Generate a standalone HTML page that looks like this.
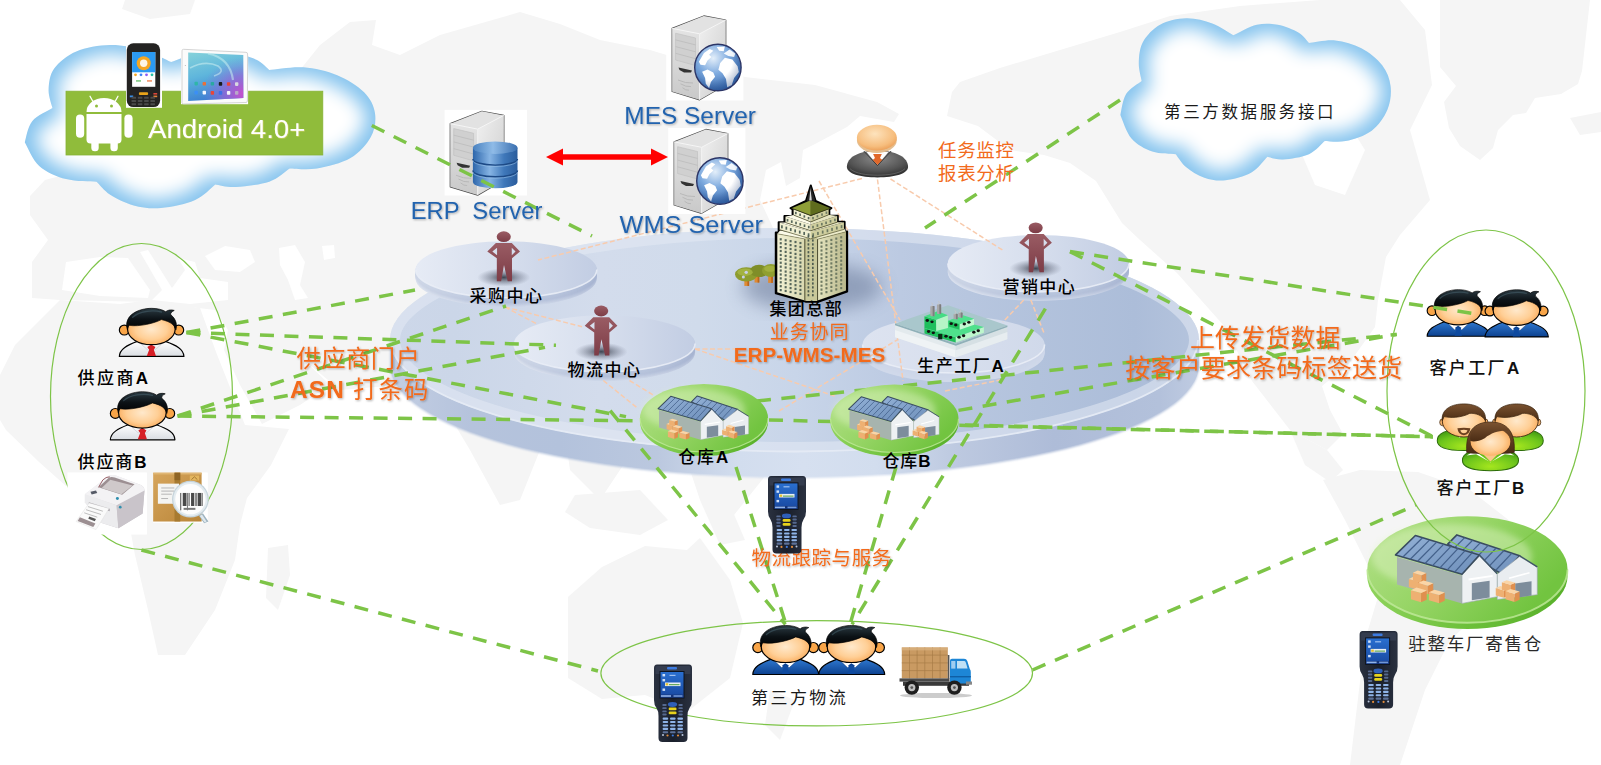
<!DOCTYPE html>
<html lang="zh"><head><meta charset="utf-8"><title>ERP-WMS-MES</title>
<style>
html,body{margin:0;padding:0;background:#fff;overflow:hidden}
svg{display:block}
text{font-family:"Liberation Sans","Noto Sans CJK SC",sans-serif;white-space:pre}
</style></head><body>
<svg width="1601" height="765" viewBox="0 0 1601 765">
<defs>
<filter id="blur9" x="-20%" y="-20%" width="140%" height="140%"><feGaussianBlur stdDeviation="9"/></filter>
<filter id="blur3" x="-20%" y="-20%" width="140%" height="140%"><feGaussianBlur stdDeviation="3"/></filter>
<filter id="blur2" x="-30%" y="-30%" width="160%" height="160%"><feGaussianBlur stdDeviation="2"/></filter>
<filter id="tsh" x="-5%" y="-20%" width="110%" height="150%"><feDropShadow dx="1" dy="1" stdDeviation="0.8" flood-color="#000" flood-opacity="0.3"/></filter>
<linearGradient id="discTop" x1="0" y1="0" x2="1" y2="0"><stop offset="0" stop-color="#d6deee"/><stop offset="0.5" stop-color="#d7dfee"/><stop offset="1" stop-color="#cfd8ea"/></linearGradient>
<linearGradient id="discSide" x1="0" y1="0" x2="0" y2="1"><stop offset="0" stop-color="#bcc8df"/><stop offset="0.45" stop-color="#b1bed8"/><stop offset="0.8" stop-color="#c6d0e4"/><stop offset="1" stop-color="#e6eaf3"/></linearGradient>
<linearGradient id="sdTop" x1="0" y1="0" x2="1" y2="0"><stop offset="0" stop-color="#e6ebf5"/><stop offset="0.5" stop-color="#d6deed"/><stop offset="1" stop-color="#c2cde3"/></linearGradient><linearGradient id="sdTop4" x1="0" y1="0" x2="1" y2="0"><stop offset="0" stop-color="#dde3f0"/><stop offset="0.5" stop-color="#d8dfee"/><stop offset="1" stop-color="#d0d9ea"/></linearGradient><linearGradient id="sdSide4" x1="0" y1="0" x2="1" y2="0"><stop offset="0" stop-color="#d3dbeb"/><stop offset="0.5" stop-color="#c9d3e6"/><stop offset="1" stop-color="#bcc8df"/></linearGradient>
<linearGradient id="sdSide" x1="0" y1="0" x2="1" y2="0"><stop offset="0" stop-color="#cdd6e8"/><stop offset="0.5" stop-color="#b7c4dc"/><stop offset="1" stop-color="#a6b5d2"/></linearGradient>
<radialGradient id="gdisc" cx="0.5" cy="0.35" r="0.7"><stop offset="0" stop-color="#b5e58a"/><stop offset="0.6" stop-color="#7fcf4a"/><stop offset="1" stop-color="#55b52c"/></radialGradient>

<linearGradient id="srvFront" x1="0" y1="0" x2="0" y2="1"><stop offset="0" stop-color="#e4e4e4"/><stop offset="1" stop-color="#c9c9c9"/></linearGradient>
<linearGradient id="srvSide" x1="0" y1="0" x2="1" y2="1"><stop offset="0" stop-color="#f0f0f0"/><stop offset="1" stop-color="#cdcdcd"/></linearGradient>
<radialGradient id="globe" cx="0.4" cy="0.3" r="0.75"><stop offset="0" stop-color="#e4effa"/><stop offset="0.45" stop-color="#7fabdf"/><stop offset="1" stop-color="#2b5ea6"/></radialGradient>
<linearGradient id="cyl" x1="0" y1="0" x2="1" y2="0"><stop offset="0" stop-color="#2d66ab"/><stop offset="0.38" stop-color="#86b4e4"/><stop offset="0.7" stop-color="#3f78ba"/><stop offset="1" stop-color="#2a5c9c"/></linearGradient>
<linearGradient id="cylTop" x1="0" y1="0" x2="1" y2="0"><stop offset="0" stop-color="#4a82c0"/><stop offset="0.45" stop-color="#8fbbe7"/><stop offset="1" stop-color="#3a6fb0"/></linearGradient>

<radialGradient id="skin" cx="0.5" cy="0.5" r="0.6"><stop offset="0" stop-color="#ffe9cc"/><stop offset="0.55" stop-color="#ffcf96"/><stop offset="1" stop-color="#f8a24c"/></radialGradient>
<linearGradient id="shirtW" x1="0" y1="0" x2="0" y2="1"><stop offset="0" stop-color="#ffffff"/><stop offset="1" stop-color="#d9dde2"/></linearGradient>
<linearGradient id="suitB" x1="0" y1="0" x2="0" y2="1"><stop offset="0" stop-color="#2f78cf"/><stop offset="1" stop-color="#0c418f"/></linearGradient>
<linearGradient id="hairK" x1="0" y1="0" x2="0" y2="1"><stop offset="0" stop-color="#2b3a42"/><stop offset="0.5" stop-color="#0c1216"/><stop offset="1" stop-color="#000"/></linearGradient>
<radialGradient id="suitG" cx="0.5" cy="0.8" r="0.8"><stop offset="0" stop-color="#a5e61e"/><stop offset="0.6" stop-color="#6cc41c"/><stop offset="1" stop-color="#3d9612"/></radialGradient>
<linearGradient id="hairBr" x1="0" y1="0" x2="0" y2="1"><stop offset="0" stop-color="#7a5230"/><stop offset="1" stop-color="#4a2c14"/></linearGradient>
<radialGradient id="mgrHead" cx="0.45" cy="0.35" r="0.7"><stop offset="0" stop-color="#fde3bd"/><stop offset="0.7" stop-color="#f6bd7d"/><stop offset="1" stop-color="#e99a52"/></radialGradient>
<radialGradient id="mgrBody" cx="0.5" cy="0.3" r="0.75"><stop offset="0" stop-color="#8a8a8a"/><stop offset="0.6" stop-color="#555"/><stop offset="1" stop-color="#262626"/></radialGradient>
<linearGradient id="maroon" x1="0" y1="0" x2="0" y2="1"><stop offset="0" stop-color="#9a5c64"/><stop offset="1" stop-color="#7c3c46"/></linearGradient>
<radialGradient id="shadowG" cx="0.5" cy="0.5" r="0.5"><stop offset="0" stop-color="#1a1f2a" stop-opacity="0.8"/><stop offset="0.45" stop-color="#2a3040" stop-opacity="0.4"/><stop offset="1" stop-color="#404860" stop-opacity="0"/></radialGradient>

<linearGradient id="gdTop" x1="0" y1="0" x2="1" y2="0.5"><stop offset="0" stop-color="#b4e18a"/><stop offset="0.5" stop-color="#97d566"/><stop offset="1" stop-color="#72c440"/></linearGradient>
<linearGradient id="gdSide" x1="0" y1="0" x2="1" y2="0"><stop offset="0" stop-color="#8fd35c"/><stop offset="0.5" stop-color="#6cc03a"/><stop offset="1" stop-color="#58b02a"/></linearGradient>
<linearGradient id="roofB" x1="0" y1="0" x2="1" y2="1"><stop offset="0" stop-color="#93b1d6"/><stop offset="1" stop-color="#6f90bb"/></linearGradient>
<linearGradient id="bldL" x1="0" y1="0" x2="1" y2="0"><stop offset="0" stop-color="#f2f1d4"/><stop offset="1" stop-color="#d9d8b0"/></linearGradient>
<linearGradient id="bldR" x1="0" y1="0" x2="1" y2="0"><stop offset="0" stop-color="#e6e5c0"/><stop offset="1" stop-color="#b9b88c"/></linearGradient>
<linearGradient id="platL" x1="0" y1="0" x2="0" y2="1"><stop offset="0" stop-color="#e4eaed"/><stop offset="0.7" stop-color="#eff3f5"/><stop offset="1" stop-color="#f4f6f8" stop-opacity="0.7"/></linearGradient>
<linearGradient id="platR" x1="0" y1="0" x2="0" y2="1"><stop offset="0" stop-color="#d5dfe3"/><stop offset="0.7" stop-color="#e4ebee"/><stop offset="1" stop-color="#eef1f4" stop-opacity="0.7"/></linearGradient>
<linearGradient id="scanBody" x1="0" y1="0" x2="1" y2="0"><stop offset="0" stop-color="#2a3140"/><stop offset="0.5" stop-color="#1a1f2b"/><stop offset="1" stop-color="#2a3140"/></linearGradient>
<linearGradient id="scanScr" x1="0" y1="0" x2="0" y2="1"><stop offset="0" stop-color="#2a6fd0"/><stop offset="1" stop-color="#1848a0"/></linearGradient>
<linearGradient id="boxBr" x1="0" y1="0" x2="1" y2="1"><stop offset="0" stop-color="#d6a55c"/><stop offset="1" stop-color="#b98538"/></linearGradient>
<linearGradient id="prn" x1="0" y1="0" x2="1" y2="1"><stop offset="0" stop-color="#f4f3f5"/><stop offset="1" stop-color="#b9b3ba"/></linearGradient>

<filter id="tglow" x="-5%" y="-20%" width="110%" height="140%"><feDropShadow dx="0.6" dy="0.6" stdDeviation="0.5" flood-color="#d8d36a" flood-opacity="0.9"/></filter>
<linearGradient id="bigSideH" gradientUnits="userSpaceOnUse" x1="390" y1="0" x2="1200" y2="0"><stop offset="0" stop-color="#c3cee3"/><stop offset="0.1" stop-color="#b5c3dc"/><stop offset="0.21" stop-color="#b3c2dc"/><stop offset="0.33" stop-color="#bbc8df"/><stop offset="0.43" stop-color="#d2ddee"/><stop offset="0.51" stop-color="#d6e0f0"/><stop offset="0.6" stop-color="#d2ddee"/><stop offset="0.7" stop-color="#bdc9e0"/><stop offset="0.82" stop-color="#aebcd8"/><stop offset="0.95" stop-color="#b3c1db"/><stop offset="1" stop-color="#c0cce2"/></linearGradient>
<linearGradient id="discTop2" gradientUnits="userSpaceOnUse" x1="390" y1="0" x2="1200" y2="0"><stop offset="0" stop-color="#cdd7e9"/><stop offset="0.08" stop-color="#cbd6e8"/><stop offset="0.26" stop-color="#d3dcec"/><stop offset="0.38" stop-color="#d0dbeb"/><stop offset="0.5" stop-color="#c8d5e9"/><stop offset="0.63" stop-color="#bccae2"/><stop offset="0.8" stop-color="#b2c2dc"/><stop offset="0.92" stop-color="#acbdd9"/><stop offset="1" stop-color="#b5c4dd"/></linearGradient>
<clipPath id="bigTop"><ellipse cx="794.5" cy="340" rx="404.5" ry="112"/></clipPath>
<filter id="blur1" x="-5%" y="-10%" width="110%" height="130%"><feGaussianBlur stdDeviation="1.2"/></filter>
<linearGradient id="sideH" x1="0" y1="0" x2="1" y2="0"><stop offset="0" stop-color="#fff" stop-opacity="0.35"/><stop offset="0.5" stop-color="#fff" stop-opacity="0"/><stop offset="1" stop-color="#8090b8" stop-opacity="0.25"/></linearGradient>
<filter id="cglow" x="-10%" y="-10%" width="120%" height="120%"><feMorphology operator="erode" radius="9"/><feGaussianBlur stdDeviation="9"/></filter>
<clipPath id="cl1"><path d="M24.8,142.3 C26.0,138.8 27.5,127.0 32.2,121.3 C36.8,115.6 49.1,110.3 52.5,108.1 C51.8,105.0 48.3,96.2 48.6,89.7 C48.9,83.1 49.6,75.0 54.2,68.6 C58.8,62.3 66.9,55.5 76.3,51.5 C85.6,47.6 99.0,45.2 110.2,45.0 C121.5,44.8 133.7,47.4 143.9,50.2 C154.0,53.1 166.6,60.1 171.2,62.1 C176.3,60.3 192.1,53.3 201.7,51.5 C211.2,49.8 219.6,50.2 228.6,51.5 C237.7,52.9 249.2,56.4 255.9,59.5 C262.7,62.6 267.0,68.2 269.2,69.9 C274.9,69.5 291.9,66.5 303.2,67.3 C314.5,68.2 327.0,71.0 337.2,75.2 C347.3,79.3 357.8,85.9 364.1,92.3 C370.4,98.6 373.9,105.8 375.0,113.3 C376.1,120.8 374.9,129.6 370.8,137.1 C366.7,144.6 359.5,152.9 350.5,158.1 C341.5,163.4 327.0,166.8 316.9,168.6 C306.7,170.3 294.1,168.6 289.6,168.6 C286.2,170.8 278.2,178.7 269.2,181.8 C260.3,184.8 244.6,186.5 235.6,187.0 C226.6,187.4 218.7,184.8 215.3,184.4 C211.9,187.0 203.7,196.2 194.6,200.2 C185.6,204.1 171.2,207.1 161.0,208.0 C150.9,208.9 142.2,207.6 133.7,205.4 C125.2,203.2 116.4,198.7 110.2,194.8 C104.1,190.9 98.9,183.9 96.6,181.8 C91.5,181.3 75.7,181.8 66.1,179.1 C56.6,176.5 46.0,172.1 39.2,165.9 C32.3,159.8 27.2,146.3 24.8,142.3 Z"/></clipPath>
<clipPath id="cl2"><path d="M1120.4,115.0 C1121.3,111.5 1122.5,99.8 1126.1,94.1 C1129.6,88.4 1139.1,83.2 1141.7,81.0 C1141.3,77.9 1138.5,69.2 1138.8,62.7 C1139.0,56.2 1139.5,48.1 1143.1,41.8 C1146.7,35.5 1152.9,28.7 1160.1,24.8 C1167.3,20.9 1177.6,18.5 1186.3,18.3 C1195.0,18.1 1204.4,20.6 1212.3,23.5 C1220.1,26.3 1229.8,33.3 1233.3,35.3 C1237.3,33.6 1249.5,26.5 1256.9,24.8 C1264.2,23.0 1270.7,23.5 1277.7,24.8 C1284.6,26.1 1293.5,29.7 1298.7,32.7 C1304.0,35.8 1307.3,41.4 1309.0,43.1 C1313.4,42.7 1326.5,39.6 1335.2,40.5 C1343.9,41.4 1353.6,44.1 1361.4,48.3 C1369.3,52.4 1377.4,59.0 1382.2,65.3 C1387.1,71.6 1389.7,78.8 1390.6,86.2 C1391.5,93.6 1390.5,102.4 1387.4,109.8 C1384.2,117.3 1378.6,125.5 1371.7,130.7 C1364.8,135.9 1353.6,139.4 1345.7,141.1 C1337.9,142.8 1328.2,141.1 1324.7,141.1 C1322.1,143.3 1315.9,151.2 1309.0,154.2 C1302.1,157.3 1290.0,159.0 1283.1,159.4 C1276.1,159.8 1270.0,157.2 1267.4,156.8 C1264.7,159.4 1258.4,168.6 1251.4,172.5 C1244.5,176.4 1233.3,179.4 1225.5,180.3 C1217.7,181.2 1211.0,179.9 1204.4,177.7 C1197.9,175.5 1191.1,171.1 1186.3,167.2 C1181.6,163.3 1177.5,156.4 1175.8,154.2 C1171.9,153.8 1159.7,154.2 1152.3,151.6 C1144.9,149.0 1136.8,144.6 1131.5,138.5 C1126.2,132.4 1122.2,118.9 1120.4,115.0 Z"/></clipPath>
<radialGradient id="globeShade" cx="0.35" cy="0.3" r="0.8"><stop offset="0.6" stop-color="#1d3f7a" stop-opacity="0"/><stop offset="1" stop-color="#1d3f7a" stop-opacity="0.45"/></radialGradient>
<linearGradient id="tabScr" x1="0" y1="0" x2="0.3" y2="1"><stop offset="0" stop-color="#86d2da"/><stop offset="0.5" stop-color="#5fb6dc"/><stop offset="1" stop-color="#3a7fd2"/></linearGradient><radialGradient id="tabMag" cx="1" cy="0.85" r="0.75"><stop offset="0" stop-color="#d04ccc" stop-opacity="0.95"/><stop offset="0.5" stop-color="#a860d8" stop-opacity="0.6"/><stop offset="1" stop-color="#8a7ae0" stop-opacity="0"/></radialGradient>
</defs>
<rect width="1601" height="765" fill="#fff"/>
<polygon points="30,215 30,196 45,180 75,172 95,120 200,100 300,70 320,45 350,22 376,20 372,45 400,55 440,35 520,12 560,24 600,40 650,50 700,65 745,77 815,85 877,102 899,114 894,122 860,116 847,127 815,144 803,150 800,178 786,186 781,162 766,170 760,200 775,232 870,300 830,400 770,470 730,520 700,500 690,470 640,440 600,500 570,470 560,400 520,500 500,505 470,450 440,400 400,385 340,390 304,360 300,330 228,330 215,310 150,302 60,300 32,298 32,262 48,240" fill="#f5f5f5"/>
<polygon points="125,0 195,0 190,14 150,19 122,9" fill="#f5f5f5"/>
<polygon points="62,290 66,262 100,257 128,258 150,290 148,298 100,296" fill="#fff"/>
<polygon points="140,252 148,250 172,288 185,270 178,258 195,262 200,278 228,282 228,300 190,304 152,300 162,290" fill="#fff"/>
<polygon points="205,256 225,246 250,250 255,262 240,272 215,270" fill="#fff"/>
<polygon points="279,248 295,245 305,262 300,285 308,298 295,300 288,280 280,265" fill="#fff"/>
<polygon points="322,246 334,245 335,258 324,260" fill="#fff"/>
<polygon points="228,330 300,330 304,360 330,385 300,405 262,424 240,385 224,350" fill="#f5f5f5"/>
<polygon points="30,330 60,300 120,304 150,300 200,308 216,352 245,425 289,429 271,465 247,498 240,525 235,560 215,610 185,655 158,655 148,610 135,555 125,500 100,480 66,486 39,462 6,430 0,420 0,375 15,345" fill="#f5f5f5"/>
<polygon points="268,548 288,545 290,575 278,610 266,598" fill="#f5f5f5"/>
<polygon points="700,500 730,505 745,540 720,545" fill="#f5f5f5"/>
<polygon points="575,495 640,490 668,520 640,535 590,528 565,512" fill="#f5f5f5"/>
<polygon points="568,597 602,567 645,546 687,550 700,538 730,580 743,623 730,678 687,712 645,695 602,699 568,678" fill="#f5f5f5"/>
<polygon points="770,690 795,700 780,740 765,725" fill="#f5f5f5"/>
<polygon points="947,116 952,92 960,82 1000,68 1060,50 1120,32 1170,16 1240,6 1320,0 1400,0 1425,30 1432,85 1410,130 1430,200 1400,235 1386,257 1378,300 1375,327 1348,365 1322,386 1330,410 1343,434 1327,450 1290,430 1252,381 1225,327 1177,273 1140,240 1122,223 1096,181 1070,163 1044,155 1010,150 978,126" fill="#f5f5f5"/>
<polygon points="1300,120 1340,110 1365,150 1345,195 1315,185 1300,150" fill="#fff"/>
<polygon points="1290,430 1327,450 1343,470 1330,482 1305,465" fill="#f5f5f5"/>
<polygon points="1323,480 1360,470 1418,472 1470,490 1528,535 1505,590 1450,640 1425,690 1400,765 1350,765 1365,640 1380,590 1345,520" fill="#f5f5f5"/>
<polygon points="1440,0 1590,0 1582,71 1578,84 1561,94 1535,98 1526,113 1513,115 1498,130 1493,148 1480,160 1460,146 1449,128 1444,102 1456,86 1440,67" fill="#f5f5f5"/>
<polygon points="1570,118 1601,112 1601,132 1580,135" fill="#f5f5f5"/>
<g><path d="M390.0,340 L390.0,366 A404.5,112 0 0 0 1199.0,366 L1199.0,340 Z" fill="url(#bigSideH)" filter="url(#blur1)"/><path d="M390.0,340 L390.0,364.5 A404.5,112 0 0 0 1199.0,364.5 L1199.0,340 Z" fill="url(#bigSideH)"/><ellipse cx="794.5" cy="340" rx="404.5" ry="112" fill="url(#discTop2)"/><path d="M391.0,340 A403.5,111.5 0 0 0 1198.0,340" fill="none" stroke="#e8edf6" stroke-width="1.8" opacity="0.9"/></g>
<g clip-path="url(#bigTop)"><ellipse cx="794.5" cy="340" rx="404.5" ry="112" fill="none" stroke="#e3e9f4" stroke-width="20" opacity="0.55"/></g>
<ellipse cx="812" cy="287" rx="70" ry="24" fill="#4e5d80" opacity="0.42" filter="url(#blur9)"/>
<g><ellipse cx="506.2" cy="278.5" rx="90.6" ry="28.2" fill="#c9d3e6"/><ellipse cx="506.2" cy="277.5" rx="90.6" ry="28.2" fill="#c3cde2"/><ellipse cx="506.2" cy="276.5" rx="90.6" ry="28.2" fill="#bcc8df"/><ellipse cx="506.2" cy="275.5" rx="90.6" ry="28.2" fill="#b6c2db"/><ellipse cx="506.2" cy="274.5" rx="90.6" ry="28.2" fill="#b3bfd9"/><ellipse cx="506.2" cy="273.5" rx="90.6" ry="28.2" fill="#b4c1da"/><ellipse cx="506.2" cy="272.5" rx="90.6" ry="28.2" fill="#b5c2db"/><ellipse cx="506.2" cy="271.5" rx="90.6" ry="28.2" fill="#b6c3dc"/><ellipse cx="506.2" cy="270.5" rx="90.6" ry="28.2" fill="#b8c4dc"/><path d="M415.6,269.5 L415.6,278.5 A90.6,28.2 0 0 0 596.8,278.5 L596.8,269.5 Z" fill="url(#sideH)"/><ellipse cx="506.2" cy="269.5" rx="90.6" ry="28.2" fill="url(#sdTop)"/><path d="M415.6,269.5 A90.6,28.2 0 0 0 596.8,269.5" fill="none" stroke="#e9edf6" stroke-width="1.6" opacity="0.9"/></g>
<g><ellipse cx="604.5" cy="352.5" rx="90.6" ry="28.2" fill="#c9d3e6"/><ellipse cx="604.5" cy="351.5" rx="90.6" ry="28.2" fill="#c3cde2"/><ellipse cx="604.5" cy="350.5" rx="90.6" ry="28.2" fill="#bcc8df"/><ellipse cx="604.5" cy="349.5" rx="90.6" ry="28.2" fill="#b6c2db"/><ellipse cx="604.5" cy="348.5" rx="90.6" ry="28.2" fill="#b3bfd9"/><ellipse cx="604.5" cy="347.5" rx="90.6" ry="28.2" fill="#b4c1da"/><ellipse cx="604.5" cy="346.5" rx="90.6" ry="28.2" fill="#b5c2db"/><ellipse cx="604.5" cy="345.5" rx="90.6" ry="28.2" fill="#b6c3dc"/><ellipse cx="604.5" cy="344.5" rx="90.6" ry="28.2" fill="#b8c4dc"/><path d="M513.9,343.5 L513.9,352.5 A90.6,28.2 0 0 0 695.1,352.5 L695.1,343.5 Z" fill="url(#sideH)"/><ellipse cx="604.5" cy="343.5" rx="90.6" ry="28.2" fill="url(#sdTop)"/><path d="M513.9,343.5 A90.6,28.2 0 0 0 695.1,343.5" fill="none" stroke="#e9edf6" stroke-width="1.6" opacity="0.9"/></g>
<g><ellipse cx="1038.4" cy="272.4" rx="90.6" ry="28.5" fill="#c9d3e6"/><ellipse cx="1038.4" cy="271.4" rx="90.6" ry="28.5" fill="#c3cde2"/><ellipse cx="1038.4" cy="270.4" rx="90.6" ry="28.5" fill="#bcc8df"/><ellipse cx="1038.4" cy="269.4" rx="90.6" ry="28.5" fill="#b6c2db"/><ellipse cx="1038.4" cy="268.4" rx="90.6" ry="28.5" fill="#b3bfd9"/><ellipse cx="1038.4" cy="267.4" rx="90.6" ry="28.5" fill="#b4c1da"/><ellipse cx="1038.4" cy="266.4" rx="90.6" ry="28.5" fill="#b5c2db"/><ellipse cx="1038.4" cy="265.4" rx="90.6" ry="28.5" fill="#b6c3dc"/><ellipse cx="1038.4" cy="264.4" rx="90.6" ry="28.5" fill="#b8c4dc"/><path d="M947.8000000000001,263.4 L947.8000000000001,272.4 A90.6,28.5 0 0 0 1129.0,272.4 L1129.0,263.4 Z" fill="url(#sideH)"/><ellipse cx="1038.4" cy="263.4" rx="90.6" ry="28.5" fill="url(#sdTop)"/><path d="M947.8000000000001,263.4 A90.6,28.5 0 0 0 1129.0,263.4" fill="none" stroke="#e9edf6" stroke-width="1.6" opacity="0.9"/></g>
<g><ellipse cx="953.6" cy="353.6" rx="91" ry="28.4" fill="#d0d9ea"/><ellipse cx="953.6" cy="352.6" rx="91" ry="28.4" fill="#d0d9ea"/><ellipse cx="953.6" cy="351.6" rx="91" ry="28.4" fill="#cfd8ea"/><ellipse cx="953.6" cy="350.6" rx="91" ry="28.4" fill="#cfd8e9"/><ellipse cx="953.6" cy="349.6" rx="91" ry="28.4" fill="#ced7e9"/><ellipse cx="953.6" cy="348.6" rx="91" ry="28.4" fill="#ced7e9"/><ellipse cx="953.6" cy="347.6" rx="91" ry="28.4" fill="#cdd6e9"/><ellipse cx="953.6" cy="346.6" rx="91" ry="28.4" fill="#cdd6e8"/><ellipse cx="953.6" cy="345.6" rx="91" ry="28.4" fill="#ccd5e8"/><ellipse cx="953.6" cy="344.6" rx="91" ry="28.4" fill="url(#sdTop4)"/><path d="M862.6,344.6 A91,28.4 0 0 0 1044.6,344.6" fill="none" stroke="#e9edf6" stroke-width="1.6" opacity="0.9"/></g>
<path d="M24.8,142.3 C26.0,138.8 27.5,127.0 32.2,121.3 C36.8,115.6 49.1,110.3 52.5,108.1 C51.8,105.0 48.3,96.2 48.6,89.7 C48.9,83.1 49.6,75.0 54.2,68.6 C58.8,62.3 66.9,55.5 76.3,51.5 C85.6,47.6 99.0,45.2 110.2,45.0 C121.5,44.8 133.7,47.4 143.9,50.2 C154.0,53.1 166.6,60.1 171.2,62.1 C176.3,60.3 192.1,53.3 201.7,51.5 C211.2,49.8 219.6,50.2 228.6,51.5 C237.7,52.9 249.2,56.4 255.9,59.5 C262.7,62.6 267.0,68.2 269.2,69.9 C274.9,69.5 291.9,66.5 303.2,67.3 C314.5,68.2 327.0,71.0 337.2,75.2 C347.3,79.3 357.8,85.9 364.1,92.3 C370.4,98.6 373.9,105.8 375.0,113.3 C376.1,120.8 374.9,129.6 370.8,137.1 C366.7,144.6 359.5,152.9 350.5,158.1 C341.5,163.4 327.0,166.8 316.9,168.6 C306.7,170.3 294.1,168.6 289.6,168.6 C286.2,170.8 278.2,178.7 269.2,181.8 C260.3,184.8 244.6,186.5 235.6,187.0 C226.6,187.4 218.7,184.8 215.3,184.4 C211.9,187.0 203.7,196.2 194.6,200.2 C185.6,204.1 171.2,207.1 161.0,208.0 C150.9,208.9 142.2,207.6 133.7,205.4 C125.2,203.2 116.4,198.7 110.2,194.8 C104.1,190.9 98.9,183.9 96.6,181.8 C91.5,181.3 75.7,181.8 66.1,179.1 C56.6,176.5 46.0,172.1 39.2,165.9 C32.3,159.8 27.2,146.3 24.8,142.3 Z" fill="#86c4ee"/>
<g clip-path="url(#cl1)"><path d="M24.8,142.3 C26.0,138.8 27.5,127.0 32.2,121.3 C36.8,115.6 49.1,110.3 52.5,108.1 C51.8,105.0 48.3,96.2 48.6,89.7 C48.9,83.1 49.6,75.0 54.2,68.6 C58.8,62.3 66.9,55.5 76.3,51.5 C85.6,47.6 99.0,45.2 110.2,45.0 C121.5,44.8 133.7,47.4 143.9,50.2 C154.0,53.1 166.6,60.1 171.2,62.1 C176.3,60.3 192.1,53.3 201.7,51.5 C211.2,49.8 219.6,50.2 228.6,51.5 C237.7,52.9 249.2,56.4 255.9,59.5 C262.7,62.6 267.0,68.2 269.2,69.9 C274.9,69.5 291.9,66.5 303.2,67.3 C314.5,68.2 327.0,71.0 337.2,75.2 C347.3,79.3 357.8,85.9 364.1,92.3 C370.4,98.6 373.9,105.8 375.0,113.3 C376.1,120.8 374.9,129.6 370.8,137.1 C366.7,144.6 359.5,152.9 350.5,158.1 C341.5,163.4 327.0,166.8 316.9,168.6 C306.7,170.3 294.1,168.6 289.6,168.6 C286.2,170.8 278.2,178.7 269.2,181.8 C260.3,184.8 244.6,186.5 235.6,187.0 C226.6,187.4 218.7,184.8 215.3,184.4 C211.9,187.0 203.7,196.2 194.6,200.2 C185.6,204.1 171.2,207.1 161.0,208.0 C150.9,208.9 142.2,207.6 133.7,205.4 C125.2,203.2 116.4,198.7 110.2,194.8 C104.1,190.9 98.9,183.9 96.6,181.8 C91.5,181.3 75.7,181.8 66.1,179.1 C56.6,176.5 46.0,172.1 39.2,165.9 C32.3,159.8 27.2,146.3 24.8,142.3 Z" fill="#fff" stroke="#fff" stroke-width="2" filter="url(#cglow)"/></g>
<path d="M1120.4,115.0 C1121.3,111.5 1122.5,99.8 1126.1,94.1 C1129.6,88.4 1139.1,83.2 1141.7,81.0 C1141.3,77.9 1138.5,69.2 1138.8,62.7 C1139.0,56.2 1139.5,48.1 1143.1,41.8 C1146.7,35.5 1152.9,28.7 1160.1,24.8 C1167.3,20.9 1177.6,18.5 1186.3,18.3 C1195.0,18.1 1204.4,20.6 1212.3,23.5 C1220.1,26.3 1229.8,33.3 1233.3,35.3 C1237.3,33.6 1249.5,26.5 1256.9,24.8 C1264.2,23.0 1270.7,23.5 1277.7,24.8 C1284.6,26.1 1293.5,29.7 1298.7,32.7 C1304.0,35.8 1307.3,41.4 1309.0,43.1 C1313.4,42.7 1326.5,39.6 1335.2,40.5 C1343.9,41.4 1353.6,44.1 1361.4,48.3 C1369.3,52.4 1377.4,59.0 1382.2,65.3 C1387.1,71.6 1389.7,78.8 1390.6,86.2 C1391.5,93.6 1390.5,102.4 1387.4,109.8 C1384.2,117.3 1378.6,125.5 1371.7,130.7 C1364.8,135.9 1353.6,139.4 1345.7,141.1 C1337.9,142.8 1328.2,141.1 1324.7,141.1 C1322.1,143.3 1315.9,151.2 1309.0,154.2 C1302.1,157.3 1290.0,159.0 1283.1,159.4 C1276.1,159.8 1270.0,157.2 1267.4,156.8 C1264.7,159.4 1258.4,168.6 1251.4,172.5 C1244.5,176.4 1233.3,179.4 1225.5,180.3 C1217.7,181.2 1211.0,179.9 1204.4,177.7 C1197.9,175.5 1191.1,171.1 1186.3,167.2 C1181.6,163.3 1177.5,156.4 1175.8,154.2 C1171.9,153.8 1159.7,154.2 1152.3,151.6 C1144.9,149.0 1136.8,144.6 1131.5,138.5 C1126.2,132.4 1122.2,118.9 1120.4,115.0 Z" fill="#86c4ee"/>
<g clip-path="url(#cl2)"><path d="M1120.4,115.0 C1121.3,111.5 1122.5,99.8 1126.1,94.1 C1129.6,88.4 1139.1,83.2 1141.7,81.0 C1141.3,77.9 1138.5,69.2 1138.8,62.7 C1139.0,56.2 1139.5,48.1 1143.1,41.8 C1146.7,35.5 1152.9,28.7 1160.1,24.8 C1167.3,20.9 1177.6,18.5 1186.3,18.3 C1195.0,18.1 1204.4,20.6 1212.3,23.5 C1220.1,26.3 1229.8,33.3 1233.3,35.3 C1237.3,33.6 1249.5,26.5 1256.9,24.8 C1264.2,23.0 1270.7,23.5 1277.7,24.8 C1284.6,26.1 1293.5,29.7 1298.7,32.7 C1304.0,35.8 1307.3,41.4 1309.0,43.1 C1313.4,42.7 1326.5,39.6 1335.2,40.5 C1343.9,41.4 1353.6,44.1 1361.4,48.3 C1369.3,52.4 1377.4,59.0 1382.2,65.3 C1387.1,71.6 1389.7,78.8 1390.6,86.2 C1391.5,93.6 1390.5,102.4 1387.4,109.8 C1384.2,117.3 1378.6,125.5 1371.7,130.7 C1364.8,135.9 1353.6,139.4 1345.7,141.1 C1337.9,142.8 1328.2,141.1 1324.7,141.1 C1322.1,143.3 1315.9,151.2 1309.0,154.2 C1302.1,157.3 1290.0,159.0 1283.1,159.4 C1276.1,159.8 1270.0,157.2 1267.4,156.8 C1264.7,159.4 1258.4,168.6 1251.4,172.5 C1244.5,176.4 1233.3,179.4 1225.5,180.3 C1217.7,181.2 1211.0,179.9 1204.4,177.7 C1197.9,175.5 1191.1,171.1 1186.3,167.2 C1181.6,163.3 1177.5,156.4 1175.8,154.2 C1171.9,153.8 1159.7,154.2 1152.3,151.6 C1144.9,149.0 1136.8,144.6 1131.5,138.5 C1126.2,132.4 1122.2,118.9 1120.4,115.0 Z" fill="#fff" stroke="#fff" stroke-width="2" filter="url(#cglow)"/></g>
<ellipse cx="141.5" cy="396.5" rx="91" ry="153" fill="none" stroke="#7dc447" stroke-width="1.2"/>
<ellipse cx="816.7" cy="673.3" rx="215.8" ry="52.6" fill="none" stroke="#7dc447" stroke-width="1.2"/>
<line x1="862" y1="178.5" x2="538" y2="260" stroke="#f8cbad" stroke-width="1.5" stroke-dasharray="5 2.5"/>
<line x1="819" y1="181" x2="900" y2="320" stroke="#f8cbad" stroke-width="1.5" stroke-dasharray="5 2.5"/>
<line x1="877.5" y1="179.5" x2="903" y2="381" stroke="#f8cbad" stroke-width="1.5" stroke-dasharray="5 2.5"/>
<line x1="890.5" y1="179" x2="1004" y2="251" stroke="#f8cbad" stroke-width="1.5" stroke-dasharray="5 2.5"/>
<line x1="1023.7" y1="300" x2="1003" y2="322" stroke="#f8cbad" stroke-width="1.5" stroke-dasharray="5 2.5"/>
<line x1="1030.8" y1="300" x2="1044" y2="333" stroke="#f8cbad" stroke-width="1.5" stroke-dasharray="5 2.5"/>
<line x1="505" y1="307" x2="582" y2="326.7" stroke="#f8cbad" stroke-width="1.5" stroke-dasharray="5 2.5"/>
<line x1="505" y1="307" x2="537" y2="324" stroke="#f8cbad" stroke-width="1.5" stroke-dasharray="5 2.5"/>
<line x1="603.3" y1="380.5" x2="638" y2="408.5" stroke="#f8cbad" stroke-width="1.5" stroke-dasharray="5 2.5"/>
<line x1="629.5" y1="380.5" x2="654" y2="395.5" stroke="#f8cbad" stroke-width="1.5" stroke-dasharray="5 2.5"/>
<line x1="695" y1="349" x2="735" y2="349" stroke="#f8cbad" stroke-width="1.5" stroke-dasharray="5 2.5"/>
<line x1="695" y1="349" x2="836" y2="396.5" stroke="#f8cbad" stroke-width="1.5" stroke-dasharray="5 2.5"/>
<line x1="779" y1="411" x2="897" y2="340" stroke="#f8cbad" stroke-width="1.5" stroke-dasharray="5 2.5"/>
<line x1="945" y1="391" x2="1000" y2="380" stroke="#f8cbad" stroke-width="1.5" stroke-dasharray="5 2.5"/>
<g stroke-linejoin="round"><rect x="666.2" y="14.5" width="77.2" height="86" fill="#fff"/><path d="M672.2,28.4 L703.8,16.0 L725.7,20.1 L725.7,84.7 L699.6,99.8 L672.2,91.5 Z" fill="#dcdcdc" stroke="#4d4d4d" stroke-width="1.3"/><path d="M672.2,28.4 L699.6,33.8 L699.6,99.8 L672.2,91.5 Z" fill="url(#srvFront)"/><path d="M699.6,33.8 L725.7,20.1 L725.7,84.7 L699.6,99.8 Z" fill="url(#srvSide)"/><path d="M672.2,28.4 L703.8,16.0 L725.7,20.1 L699.6,33.8 Z" fill="#e2e2e2"/><path d="M672.2,28.4 L699.6,33.8 L725.7,20.1" fill="none" stroke="#f6f6f6" stroke-width="1"/><path d="M699.6,33.8 L699.6,99.8" fill="none" stroke="#f2f2f2" stroke-width="1"/><path d="M675.6,33.2 L695.5,38.0 L695.5,65.5 L675.6,60.0 Z" fill="#d0d0d0" stroke="#bdbdbd" stroke-width="0.6"/><path d="M675.6,39.9 L695.5,44.9" stroke="#b9b9b9" stroke-width="0.7"/><path d="M675.6,46.6 L695.5,51.8" stroke="#b9b9b9" stroke-width="0.7"/><path d="M675.6,53.3 L695.5,58.7" stroke="#b9b9b9" stroke-width="0.7"/><path d="M678.5,67.5 L692.0,70.5 L691.0,72.5 L684.0,72.5 L679.5,70.0 Z" fill="#333"/><path d="M678.0,80.0 Q685.5,83.5 693.0,83.0" stroke="#b5b5b5" stroke-width="0.9" fill="none"/><path d="M680.5,83.8 Q685.8,87.1 691.0,86.6" stroke="#b5b5b5" stroke-width="0.9" fill="none"/><path d="M682.5,87.7 Q685.8,90.7 689.0,90.2" stroke="#b5b5b5" stroke-width="0.9" fill="none"/><circle cx="717.9" cy="67.5" r="23.2" fill="url(#globe)" stroke="#2c3566" stroke-width="1.4"/><path d="M698.9,61.7 L704.0,53.1 L709.8,48.9 L713.3,50.8 L709.1,54.7 L711.4,57.1 L707.5,60.5 L705.1,65.2 L700.5,64.7 Z" fill="#fff"/><path d="M702.1,71.7 L707.5,69.4 L713.3,72.6 L715.1,76.8 L710.9,81.9 L709.1,87.9 L705.8,83.7 L705.1,77.9 Z" fill="#fff"/><path d="M716.7,47.1 L724.9,46.6 L723.7,51.3 L719.1,50.8 Z" fill="#fff"/><path d="M720.2,62.9 L724.9,57.8 L732.3,59.4 L737.6,66.3 L738.8,72.1 L734.1,77.9 L731.8,84.9 L727.2,87.2 L726.0,79.1 L722.5,73.3 L718.4,69.8 Z" fill="#fff"/><path d="M723.7,53.6 L729.5,49.4 L735.3,53.6 L734.1,57.1 L728.3,55.9 Z" fill="#fff" opacity="0.9"/><circle cx="717.9" cy="67.5" r="22.5" fill="url(#globeShade)"/></g>
<g stroke-linejoin="round"><rect x="668.2" y="128.0" width="77.2" height="86" fill="#fff"/><path d="M674.2,141.9 L705.8,129.5 L727.7,133.6 L727.7,198.2 L701.6,213.3 L674.2,205.0 Z" fill="#dcdcdc" stroke="#4d4d4d" stroke-width="1.3"/><path d="M674.2,141.9 L701.6,147.3 L701.6,213.3 L674.2,205.0 Z" fill="url(#srvFront)"/><path d="M701.6,147.3 L727.7,133.6 L727.7,198.2 L701.6,213.3 Z" fill="url(#srvSide)"/><path d="M674.2,141.9 L705.8,129.5 L727.7,133.6 L701.6,147.3 Z" fill="#e2e2e2"/><path d="M674.2,141.9 L701.6,147.3 L727.7,133.6" fill="none" stroke="#f6f6f6" stroke-width="1"/><path d="M701.6,147.3 L701.6,213.3" fill="none" stroke="#f2f2f2" stroke-width="1"/><path d="M677.6,146.7 L697.5,151.5 L697.5,179.0 L677.6,173.5 Z" fill="#d0d0d0" stroke="#bdbdbd" stroke-width="0.6"/><path d="M677.6,153.4 L697.5,158.4" stroke="#b9b9b9" stroke-width="0.7"/><path d="M677.6,160.1 L697.5,165.3" stroke="#b9b9b9" stroke-width="0.7"/><path d="M677.6,166.8 L697.5,172.2" stroke="#b9b9b9" stroke-width="0.7"/><path d="M680.5,181.0 L694.0,184.0 L693.0,186.0 L686.0,186.0 L681.5,183.5 Z" fill="#333"/><path d="M680.0,193.5 Q687.5,197.0 695.0,196.5" stroke="#b5b5b5" stroke-width="0.9" fill="none"/><path d="M682.5,197.3 Q687.8,200.6 693.0,200.1" stroke="#b5b5b5" stroke-width="0.9" fill="none"/><path d="M684.5,201.2 Q687.8,204.2 691.0,203.7" stroke="#b5b5b5" stroke-width="0.9" fill="none"/><circle cx="719.9" cy="181.0" r="23.2" fill="url(#globe)" stroke="#2c3566" stroke-width="1.4"/><path d="M700.9,175.2 L706.0,166.6 L711.8,162.4 L715.3,164.3 L711.1,168.2 L713.4,170.6 L709.5,174.0 L707.1,178.7 L702.5,178.2 Z" fill="#fff"/><path d="M704.1,185.2 L709.5,182.9 L715.3,186.1 L717.1,190.3 L712.9,195.4 L711.1,201.4 L707.8,197.2 L707.1,191.4 Z" fill="#fff"/><path d="M718.7,160.6 L726.9,160.1 L725.7,164.8 L721.1,164.3 Z" fill="#fff"/><path d="M722.2,176.4 L726.9,171.3 L734.3,172.9 L739.6,179.8 L740.8,185.6 L736.1,191.4 L733.8,198.4 L729.2,200.7 L728.0,192.6 L724.5,186.8 L720.4,183.3 Z" fill="#fff"/><path d="M725.7,167.1 L731.5,162.9 L737.3,167.1 L736.1,170.6 L730.3,169.4 Z" fill="#fff" opacity="0.9"/><circle cx="719.9" cy="181.0" r="22.5" fill="url(#globeShade)"/></g>
<g stroke-linejoin="round"><rect x="444.6" y="109.89999999999999" width="82.4" height="85.6" fill="#fff"/><path d="M450.3,123.7 L481.9,111.3 L503.8,115.4 L503.8,180.0 L477.7,195.1 L450.3,186.8 Z" fill="#dcdcdc" stroke="#4d4d4d" stroke-width="1.3"/><path d="M450.3,123.7 L477.7,129.1 L477.7,195.1 L450.3,186.8 Z" fill="url(#srvFront)"/><path d="M477.7,129.1 L503.8,115.4 L503.8,180.0 L477.7,195.1 Z" fill="url(#srvSide)"/><path d="M450.3,123.7 L481.9,111.3 L503.8,115.4 L477.7,129.1 Z" fill="#e2e2e2"/><path d="M450.3,123.7 L477.7,129.1 L503.8,115.4" fill="none" stroke="#f6f6f6" stroke-width="1"/><path d="M477.7,129.1 L477.7,195.1" fill="none" stroke="#f2f2f2" stroke-width="1"/><path d="M453.7,128.5 L473.6,133.3 L473.6,160.8 L453.7,155.3 Z" fill="#d0d0d0" stroke="#bdbdbd" stroke-width="0.6"/><path d="M453.7,135.2 L473.6,140.2" stroke="#b9b9b9" stroke-width="0.7"/><path d="M453.7,141.9 L473.6,147.1" stroke="#b9b9b9" stroke-width="0.7"/><path d="M453.7,148.6 L473.6,154.0" stroke="#b9b9b9" stroke-width="0.7"/><path d="M456.6,162.8 L470.1,165.8 L469.1,167.8 L462.1,167.8 L457.6,165.3 Z" fill="#333"/><path d="M456.1,175.3 Q463.6,178.8 471.1,178.3" stroke="#b5b5b5" stroke-width="0.9" fill="none"/><path d="M458.6,179.1 Q463.9,182.4 469.1,181.9" stroke="#b5b5b5" stroke-width="0.9" fill="none"/><path d="M460.6,182.9 Q463.9,186.0 467.1,185.5" stroke="#b5b5b5" stroke-width="0.9" fill="none"/><path d="M472.90000000000003,147.7 L472.90000000000003,182.0 A22.3,6.2 0 0 0 517.5,182.0 L517.5,147.7 Z" fill="url(#cyl)"/><path d="M472.90000000000003,158.9 A22.3,6.2 0 0 0 517.5,158.9" fill="none" stroke="#1d4a86" stroke-width="1.4"/><path d="M472.90000000000003,160.3 A22.3,6.2 0 0 0 517.5,160.3" fill="none" stroke="#9cc3ea" stroke-width="0.8" opacity="0.7"/><path d="M472.90000000000003,170.6 A22.3,6.2 0 0 0 517.5,170.6" fill="none" stroke="#1d4a86" stroke-width="1.4"/><path d="M472.90000000000003,172.0 A22.3,6.2 0 0 0 517.5,172.0" fill="none" stroke="#9cc3ea" stroke-width="0.8" opacity="0.7"/><ellipse cx="495.20000000000005" cy="147.7" rx="22.3" ry="6.2" fill="url(#cylTop)"/></g>
<path d="M546,157 L563,148.5 L563,154.3 L651,154.3 L651,148.5 L668,157 L651,165.5 L651,159.7 L563,159.7 L563,165.5 Z" fill="#f00"/>
<rect x="66" y="91.2" width="256.8" height="63.8" fill="#90bc3b" stroke="#86b235" stroke-width="0.8"/>
<g fill="#fff" stroke="none"><path d="M86.5,112 A17.5,14 0 0 1 121.5,112 Z"/><path d="M93.5,102.5 L90,96.3 M114.5,102.5 L118,96.3" stroke="#fff" stroke-width="1.3" stroke-linecap="round"/><circle cx="96.5" cy="106" r="1.5" fill="#90bc3b"/><circle cx="111.5" cy="106" r="1.5" fill="#90bc3b"/><path d="M86.5,114 H121.5 V139.6 Q121.5,143.6 117.5,143.6 H90.5 Q86.5,143.6 86.5,139.6 Z"/><rect x="76" y="114.4" width="8.2" height="23.4" rx="4.1"/><rect x="124.4" y="114.4" width="8.2" height="23.4" rx="4.1"/><rect x="91.3" y="138" width="7.4" height="13.2" rx="3.5"/><rect x="110.4" y="138" width="7.4" height="13.2" rx="3.5"/></g>
<g><rect x="126" y="42.8" width="36" height="65" fill="#fff"/><rect x="126.8" y="43.3" width="33.3" height="63.8" rx="6.5" fill="#242322"/><rect x="132.1" y="52" width="23.2" height="34.8" fill="#fff"/><rect x="132.1" y="52" width="23.2" height="20.3" fill="#2b9af3"/><circle cx="143.7" cy="63.3" r="7" fill="#f5a623"/><circle cx="143.7" cy="63.3" r="3.7" fill="#fdf6e6"/><circle cx="135.5" cy="74.8" r="1.4" fill="#f5a623"/><circle cx="141.0" cy="74.8" r="1.4" fill="#3b82f6"/><circle cx="146.5" cy="74.8" r="1.4" fill="#8b5cf6"/><circle cx="152.0" cy="74.8" r="1.4" fill="#22c1a5"/><rect x="136" y="80" width="5" height="1.8" fill="#8fd092"/><rect x="147" y="80" width="5" height="1.8" fill="#f3a07a"/><rect x="138.9" y="92.2" width="9.2" height="2.8" rx="1" fill="#e8a21a"/><rect x="129.8" y="95.5" width="3.4" height="1.8" fill="#3a8fe8"/><rect x="153.4" y="93" width="3.8" height="1.6" fill="#d8453a"/><rect x="153.4" y="95.6" width="3.8" height="1.6" fill="#e8853a"/><rect x="131.5" y="96.8" width="4.6" height="2" rx="0.6" fill="#4a4a4a"/><rect x="137.8" y="96.8" width="4.6" height="2" rx="0.6" fill="#4a4a4a"/><rect x="144.1" y="96.8" width="4.6" height="2" rx="0.6" fill="#4a4a4a"/><rect x="150.4" y="96.8" width="4.6" height="2" rx="0.6" fill="#4a4a4a"/><rect x="131.5" y="100.0" width="4.6" height="2" rx="0.6" fill="#4a4a4a"/><rect x="137.8" y="100.0" width="4.6" height="2" rx="0.6" fill="#4a4a4a"/><rect x="144.1" y="100.0" width="4.6" height="2" rx="0.6" fill="#4a4a4a"/><rect x="150.4" y="100.0" width="4.6" height="2" rx="0.6" fill="#4a4a4a"/><rect x="131.5" y="103.2" width="4.6" height="2" rx="0.6" fill="#4a4a4a"/><rect x="137.8" y="103.2" width="4.6" height="2" rx="0.6" fill="#4a4a4a"/><rect x="144.1" y="103.2" width="4.6" height="2" rx="0.6" fill="#4a4a4a"/><rect x="150.4" y="103.2" width="4.6" height="2" rx="0.6" fill="#4a4a4a"/></g>
<g><rect x="181" y="46.7" width="67.1" height="57.5" fill="#fff"/><path d="M183.6,49.3 L246,52.3 Q247.6,52.5 247.6,54 L247.4,101 Q247.3,102.4 246,102.5 L183.6,104 Q182,104 182,102.5 L182,50.8 Q182,49.2 183.6,49.3 Z" fill="#fbfbfb" stroke="#cfcfcf" stroke-width="0.9"/><path d="M188.2,52.5 L243.3,55 L243.3,98 L188.2,100.9 Z" fill="url(#tabScr)"/><path d="M188.2,52.5 L243.3,55 L243.3,98 L188.2,100.9 Z" fill="url(#tabMag)"/><path d="M208,53.5 Q230,58 233,80" fill="none" stroke="#c8eef0" stroke-width="2.2" opacity="0.55"/><path d="M190,68 Q205,60 218,66 Q226,72 214,76" fill="none" stroke="#d8f4f4" stroke-width="1.6" opacity="0.5"/><circle cx="185.3" cy="65.5" r="0.5" fill="#aaa"/><rect x="194.5" y="81.8" width="3.4" height="3.6" rx="0.8" fill="#2fb6a8"/><rect x="202.6" y="81.9" width="3.4" height="3.6" rx="0.8" fill="#e8703a"/><rect x="210.7" y="82.0" width="3.4" height="3.6" rx="0.8" fill="#2aa8a0"/><rect x="218.8" y="82.1" width="3.4" height="3.6" rx="0.8" fill="#1a1a1a"/><rect x="226.9" y="82.2" width="3.4" height="3.6" rx="0.8" fill="#e8453a"/><rect x="235.0" y="82.3" width="3.4" height="3.6" rx="0.8" fill="#d8d8e0"/><rect x="194.5" y="90.8" width="3.4" height="3.8" rx="0.8" fill="#3b8ff6"/><rect x="202.6" y="90.8" width="3.4" height="3.8" rx="0.8" fill="#f4f8ff"/><rect x="210.7" y="90.9" width="3.4" height="3.8" rx="0.8" fill="#e8453a"/><rect x="218.8" y="91.0" width="3.4" height="3.8" rx="0.8" fill="#3b6fe6"/><rect x="226.9" y="91.0" width="3.4" height="3.8" rx="0.8" fill="#f4f4fa"/><rect x="235.0" y="91.0" width="3.4" height="3.8" rx="0.8" fill="#b8a8c8"/></g>
<g transform="translate(100,295) scale(0.13072)" stroke-linejoin="round"><path d="M148,470 C150,415 205,385 285,355 L500,355 C585,385 640,415 642,470 Z" fill="url(#shirtW)" stroke="#000" stroke-width="9"/><path d="M300,362 L362,418 L392,385 L422,418 L488,362" fill="none" stroke="#c9ced6" stroke-width="5"/><path d="M362,398 L392,378 L424,398 L412,418 L428,466 L358,466 L376,418 Z" fill="#d61f26"/><ellipse cx="186" cy="268" rx="38" ry="38" fill="#f9a548" stroke="#000" stroke-width="9"/><ellipse cx="602" cy="268" rx="38" ry="38" fill="#f9a548" stroke="#000" stroke-width="9"/><ellipse cx="393" cy="262" rx="182" ry="118" fill="url(#skin)" stroke="#000" stroke-width="9"/><path d="M208,262 C180,150 300,102 395,102 C440,102 478,112 503,128 C515,115 545,110 568,118 C548,128 536,140 542,152 C585,185 592,235 580,268 C572,232 545,205 470,188 C420,215 300,245 222,232 C215,240 212,250 208,262 Z" fill="url(#hairK)" stroke="#000" stroke-width="5"/><path d="M250,170 C300,125 400,112 470,130" fill="none" stroke="#4a6572" stroke-width="10" opacity="0.5" stroke-linecap="round"/></g>
<g transform="translate(91,378.4) scale(0.13072)" stroke-linejoin="round"><path d="M148,470 C150,415 205,385 285,355 L500,355 C585,385 640,415 642,470 Z" fill="url(#shirtW)" stroke="#000" stroke-width="9"/><path d="M300,362 L362,418 L392,385 L422,418 L488,362" fill="none" stroke="#c9ced6" stroke-width="5"/><path d="M362,398 L392,378 L424,398 L412,418 L428,466 L358,466 L376,418 Z" fill="#d61f26"/><ellipse cx="186" cy="268" rx="38" ry="38" fill="#f9a548" stroke="#000" stroke-width="9"/><ellipse cx="602" cy="268" rx="38" ry="38" fill="#f9a548" stroke="#000" stroke-width="9"/><ellipse cx="393" cy="262" rx="182" ry="118" fill="url(#skin)" stroke="#000" stroke-width="9"/><path d="M208,262 C180,150 300,102 395,102 C440,102 478,112 503,128 C515,115 545,110 568,118 C548,128 536,140 542,152 C585,185 592,235 580,268 C572,232 545,205 470,188 C420,215 300,245 222,232 C215,240 212,250 208,262 Z" fill="url(#hairK)" stroke="#000" stroke-width="5"/><path d="M250,170 C300,125 400,112 470,130" fill="none" stroke="#4a6572" stroke-width="10" opacity="0.5" stroke-linecap="round"/></g>
<g transform="translate(1408.3999999999999,276.7) scale(0.12680)" stroke-linejoin="round"><path d="M148,470 C150,415 205,385 285,355 L500,355 C585,385 640,415 642,470 Z" fill="url(#suitB)" stroke="#000" stroke-width="9"/><path d="M300,358 L365,420 L392,392 L420,420 L488,358 Z" fill="#fff"/><path d="M368,402 L392,386 L418,402 L408,420 L422,466 L364,466 L378,420 Z" fill="#0e4aa0"/><path d="M300,358 L365,420 L392,392 L420,420 L488,358" fill="none" stroke="#0a3170" stroke-width="3"/><ellipse cx="186" cy="268" rx="38" ry="38" fill="#f9a548" stroke="#000" stroke-width="9"/><ellipse cx="602" cy="268" rx="38" ry="38" fill="#f9a548" stroke="#000" stroke-width="9"/><ellipse cx="393" cy="262" rx="182" ry="118" fill="url(#skin)" stroke="#000" stroke-width="9"/><path d="M208,262 C180,150 300,102 395,102 C440,102 478,112 503,128 C515,115 545,110 568,118 C548,128 536,140 542,152 C585,185 592,235 580,268 C572,232 545,205 470,188 C420,215 300,245 222,232 C215,240 212,250 208,262 Z" fill="url(#hairK)" stroke="#000" stroke-width="5"/><path d="M250,170 C300,125 400,112 470,130" fill="none" stroke="#4a6572" stroke-width="10" opacity="0.5" stroke-linecap="round"/></g>
<g transform="translate(1466.1,276.7) scale(0.12810)" stroke-linejoin="round"><path d="M148,470 C150,415 205,385 285,355 L500,355 C585,385 640,415 642,470 Z" fill="url(#suitB)" stroke="#000" stroke-width="9"/><path d="M300,358 L365,420 L392,392 L420,420 L488,358 Z" fill="#fff"/><path d="M368,402 L392,386 L418,402 L408,420 L422,466 L364,466 L378,420 Z" fill="#0e4aa0"/><path d="M300,358 L365,420 L392,392 L420,420 L488,358" fill="none" stroke="#0a3170" stroke-width="3"/><ellipse cx="186" cy="268" rx="38" ry="38" fill="#f9a548" stroke="#000" stroke-width="9"/><ellipse cx="602" cy="268" rx="38" ry="38" fill="#f9a548" stroke="#000" stroke-width="9"/><ellipse cx="393" cy="262" rx="182" ry="118" fill="url(#skin)" stroke="#000" stroke-width="9"/><path d="M208,262 C180,150 300,102 395,102 C440,102 478,112 503,128 C515,115 545,110 568,118 C548,128 536,140 542,152 C585,185 592,235 580,268 C572,232 545,205 470,188 C420,215 300,245 222,232 C215,240 212,250 208,262 Z" fill="url(#hairK)" stroke="#000" stroke-width="5"/><path d="M250,170 C300,125 400,112 470,130" fill="none" stroke="#4a6572" stroke-width="10" opacity="0.5" stroke-linecap="round"/></g>
<g transform="translate(460,220) scale(0.11765)"><ellipse cx="372" cy="488" rx="225" ry="78" fill="url(#shadowG)"/><ellipse cx="372" cy="142" rx="60" ry="46" fill="url(#maroon)"/><path d="M305,195 L440,195 L510,268 L442,325 L442,520 L405,520 L374,382 L350,520 L313,520 L313,325 L232,268 Z M315,235 L275,268 L315,300 Z M440,235 L440,300 L472,268 Z" fill="url(#maroon)" fill-rule="evenodd"/></g>
<g transform="translate(557.4,294.3) scale(0.11765)"><ellipse cx="372" cy="488" rx="225" ry="78" fill="url(#shadowG)"/><ellipse cx="372" cy="142" rx="60" ry="46" fill="url(#maroon)"/><path d="M305,195 L440,195 L510,268 L442,325 L442,520 L405,520 L374,382 L350,520 L313,520 L313,325 L232,268 Z M315,235 L275,268 L315,300 Z M440,235 L440,300 L472,268 Z" fill="url(#maroon)" fill-rule="evenodd"/></g>
<g transform="translate(991.9,211.1) scale(0.11765)"><ellipse cx="372" cy="488" rx="225" ry="78" fill="url(#shadowG)"/><ellipse cx="372" cy="142" rx="60" ry="46" fill="url(#maroon)"/><path d="M305,195 L440,195 L510,268 L442,325 L442,520 L405,520 L374,382 L350,520 L313,520 L313,325 L232,268 Z M315,235 L275,268 L315,300 Z M440,235 L440,300 L472,268 Z" fill="url(#maroon)" fill-rule="evenodd"/></g>
<g transform="translate(830,110) scale(0.12492)"><path d="M135,455 C135,380 230,325 380,322 C530,325 625,380 625,455 C625,510 520,540 380,540 C240,540 135,510 135,455 Z" fill="url(#mgrBody)"/><path d="M160,470 C200,510 300,522 380,522 C460,522 560,510 600,470" fill="none" stroke="#8a8a8a" stroke-width="6" opacity="0.6"/><path d="M290,335 L380,440 L470,335 Z" fill="#fff"/><path d="M345,352 L415,352 L400,385 L420,400 L380,440 L342,400 L360,385 Z" fill="#e0682a"/><path d="M270,328 L380,445 L490,328" fill="none" stroke="#3a3a3a" stroke-width="8"/><ellipse cx="375" cy="240" rx="160" ry="105" fill="#e4bd8e"/><ellipse cx="375" cy="222" rx="160" ry="103" fill="url(#mgrHead)"/></g>
<g transform="translate(725,175) scale(0.16989)"><rect x="114" y="595" width="28" height="58" fill="#e08a32"/><rect x="132" y="595" width="10" height="58" fill="#b9651c"/><rect x="174" y="575" width="28" height="58" fill="#e08a32"/><rect x="192" y="575" width="10" height="58" fill="#b9651c"/><rect x="254" y="577" width="28" height="58" fill="#e08a32"/><rect x="272" y="577" width="10" height="58" fill="#b9651c"/><ellipse cx="125" cy="585" rx="66" ry="42" fill="#8d9c2e"/><ellipse cx="200" cy="565" rx="55" ry="36" fill="#7f8e28"/><ellipse cx="270" cy="562" rx="52" ry="38" fill="#909f30"/><ellipse cx="118" cy="572" rx="45" ry="22" fill="#a9b845" opacity="0.8"/><ellipse cx="265" cy="552" rx="34" ry="18" fill="#a9b845" opacity="0.7"/><circle cx="125" cy="573" r="10" fill="#c9d0e8"/><circle cx="108" cy="600" r="9" fill="#c9d0e8"/></g>
<g transform="translate(725,175) scale(0.16989)" stroke-linejoin="round"><path d="M505,62 L533,152 L626,195 L614,202 L614,240 L664,240 L664,276 L704,276 L704,332 L719,332 L719,686 L548,746 L478,746 L299,696 L299,338 L316,338 L316,278 L350,278 L350,242 L398,242 L398,202 L386,195 L477,152 Z" fill="#151515" stroke="#000" stroke-width="12"/><path d="M470,330 L545,330 L545,742 L480,742 L470,738 Z" fill="#c9c89a"/><path d="M308,346 L470,376 L470,738 L308,690 Z" fill="url(#bldL)"/><path d="M545,378 L712,334 L712,680 L545,738 Z" fill="url(#bldR)"/><path d="M308,346 L324,326 L486,356 L470,376 Z" fill="#fbfae8"/><path d="M545,378 L530,356 L700,314 L712,334 Z" fill="#eeedcc"/><path d="M322,280 L505,334 L505,376 L322,322 Z" fill="#f1f0d3"/><path d="M505,334 L700,278 L700,320 L505,376 Z" fill="#cfce9e"/><path d="M322,280 L356,280 L505,328 L505,334 Z" fill="#fbfae8"/><path d="M505,334 L505,328 L660,278 L700,278 Z" fill="#e6e5c2"/><path d="M322,322 L505,376 L700,320" fill="none" stroke="#4c4c28" stroke-width="4"/><rect x="330" y="296" width="10" height="18" fill="#56665a"/><rect x="514" y="343" width="10" height="18" fill="#6e7a62"/><rect x="356" y="304" width="10" height="18" fill="#56665a"/><rect x="542" y="335" width="10" height="18" fill="#6e7a62"/><rect x="382" y="312" width="10" height="18" fill="#56665a"/><rect x="570" y="327" width="10" height="18" fill="#6e7a62"/><rect x="408" y="320" width="10" height="18" fill="#56665a"/><rect x="598" y="319" width="10" height="18" fill="#6e7a62"/><rect x="435" y="327" width="10" height="18" fill="#56665a"/><rect x="625" y="311" width="10" height="18" fill="#6e7a62"/><rect x="461" y="335" width="10" height="18" fill="#56665a"/><rect x="653" y="303" width="10" height="18" fill="#6e7a62"/><rect x="487" y="343" width="10" height="18" fill="#56665a"/><rect x="681" y="295" width="10" height="18" fill="#6e7a62"/><path d="M356,244 L505,292 L505,328 L356,280 Z" fill="#f1f0d3"/><path d="M505,292 L660,242 L660,278 L505,328 Z" fill="#cfce9e"/><path d="M356,244 L404,236 L505,276 L505,292 Z" fill="#fbfae8"/><path d="M505,292 L505,276 L610,234 L660,242 Z" fill="#e6e5c2"/><path d="M356,280 L505,328 L660,278" fill="none" stroke="#4c4c28" stroke-width="4"/><rect x="363" y="259" width="10" height="15" fill="#56665a"/><rect x="513" y="299" width="10" height="15" fill="#6e7a62"/><rect x="388" y="267" width="10" height="15" fill="#56665a"/><rect x="539" y="290" width="10" height="15" fill="#6e7a62"/><rect x="413" y="275" width="10" height="15" fill="#56665a"/><rect x="565" y="282" width="10" height="15" fill="#6e7a62"/><rect x="438" y="283" width="10" height="15" fill="#56665a"/><rect x="590" y="274" width="10" height="15" fill="#6e7a62"/><rect x="463" y="291" width="10" height="15" fill="#56665a"/><rect x="616" y="265" width="10" height="15" fill="#6e7a62"/><rect x="488" y="299" width="10" height="15" fill="#56665a"/><rect x="642" y="257" width="10" height="15" fill="#6e7a62"/><path d="M404,202 L505,242 L505,276 L404,236 Z" fill="#f1f0d3"/><path d="M505,242 L610,200 L610,234 L505,276 Z" fill="#cfce9e"/><path d="M404,236 L505,276 L610,234" fill="none" stroke="#4c4c28" stroke-width="4"/><rect x="412" y="217" width="10" height="14" fill="#56665a"/><rect x="513" y="247" width="10" height="14" fill="#6e7a62"/><rect x="437" y="227" width="10" height="14" fill="#56665a"/><rect x="539" y="236" width="10" height="14" fill="#6e7a62"/><rect x="462" y="237" width="10" height="14" fill="#56665a"/><rect x="566" y="226" width="10" height="14" fill="#6e7a62"/><rect x="487" y="247" width="10" height="14" fill="#56665a"/><rect x="592" y="215" width="10" height="14" fill="#6e7a62"/><path d="M392,196 L505,148 L505,238 Z" fill="#8e9e38"/><path d="M505,148 L622,196 L505,238 Z" fill="#5f6c1e"/><path d="M392,196 L505,238 L622,196" fill="none" stroke="#2c3010" stroke-width="4"/><path d="M505,65 L532,152 L480,152 Z" fill="#262626"/><path d="M503,78 L511,150 L496,150 Z" fill="#d8d8d8"/><path d="M470,376 L470,738 M545,378 L545,740" stroke="#3a3a20" stroke-width="5"/><path d="M308,346 L470,376 M545,378 L712,334" stroke="#6a6a3a" stroke-width="3"/><rect x="322" y="372" width="12" height="13" fill="#56665a"/><rect x="351" y="378" width="12" height="13" fill="#56665a"/><rect x="380" y="383" width="12" height="13" fill="#56665a"/><rect x="409" y="388" width="12" height="13" fill="#56665a"/><rect x="438" y="394" width="12" height="13" fill="#56665a"/><rect x="322" y="395" width="12" height="13" fill="#56665a"/><rect x="351" y="400" width="12" height="13" fill="#56665a"/><rect x="380" y="406" width="12" height="13" fill="#56665a"/><rect x="409" y="412" width="12" height="13" fill="#56665a"/><rect x="438" y="417" width="12" height="13" fill="#56665a"/><rect x="322" y="418" width="12" height="13" fill="#56665a"/><rect x="351" y="424" width="12" height="13" fill="#56665a"/><rect x="380" y="429" width="12" height="13" fill="#56665a"/><rect x="409" y="434" width="12" height="13" fill="#56665a"/><rect x="438" y="440" width="12" height="13" fill="#56665a"/><rect x="322" y="441" width="12" height="13" fill="#56665a"/><rect x="351" y="446" width="12" height="13" fill="#56665a"/><rect x="380" y="452" width="12" height="13" fill="#56665a"/><rect x="409" y="458" width="12" height="13" fill="#56665a"/><rect x="438" y="463" width="12" height="13" fill="#56665a"/><rect x="322" y="464" width="12" height="13" fill="#56665a"/><rect x="351" y="470" width="12" height="13" fill="#56665a"/><rect x="380" y="475" width="12" height="13" fill="#56665a"/><rect x="409" y="480" width="12" height="13" fill="#56665a"/><rect x="438" y="486" width="12" height="13" fill="#56665a"/><rect x="322" y="487" width="12" height="13" fill="#56665a"/><rect x="351" y="492" width="12" height="13" fill="#56665a"/><rect x="380" y="498" width="12" height="13" fill="#56665a"/><rect x="409" y="504" width="12" height="13" fill="#56665a"/><rect x="438" y="509" width="12" height="13" fill="#56665a"/><rect x="322" y="510" width="12" height="13" fill="#56665a"/><rect x="351" y="516" width="12" height="13" fill="#56665a"/><rect x="380" y="521" width="12" height="13" fill="#56665a"/><rect x="409" y="526" width="12" height="13" fill="#56665a"/><rect x="438" y="532" width="12" height="13" fill="#56665a"/><rect x="322" y="533" width="12" height="13" fill="#56665a"/><rect x="351" y="538" width="12" height="13" fill="#56665a"/><rect x="380" y="544" width="12" height="13" fill="#56665a"/><rect x="409" y="550" width="12" height="13" fill="#56665a"/><rect x="438" y="555" width="12" height="13" fill="#56665a"/><rect x="322" y="556" width="12" height="13" fill="#56665a"/><rect x="351" y="562" width="12" height="13" fill="#56665a"/><rect x="380" y="567" width="12" height="13" fill="#56665a"/><rect x="409" y="572" width="12" height="13" fill="#56665a"/><rect x="438" y="578" width="12" height="13" fill="#56665a"/><rect x="322" y="579" width="12" height="13" fill="#56665a"/><rect x="351" y="584" width="12" height="13" fill="#56665a"/><rect x="380" y="590" width="12" height="13" fill="#56665a"/><rect x="409" y="596" width="12" height="13" fill="#56665a"/><rect x="438" y="601" width="12" height="13" fill="#56665a"/><rect x="322" y="602" width="12" height="13" fill="#56665a"/><rect x="351" y="608" width="12" height="13" fill="#56665a"/><rect x="380" y="613" width="12" height="13" fill="#56665a"/><rect x="409" y="618" width="12" height="13" fill="#56665a"/><rect x="438" y="624" width="12" height="13" fill="#56665a"/><rect x="322" y="625" width="12" height="13" fill="#56665a"/><rect x="351" y="630" width="12" height="13" fill="#56665a"/><rect x="380" y="636" width="12" height="13" fill="#56665a"/><rect x="409" y="642" width="12" height="13" fill="#56665a"/><rect x="438" y="647" width="12" height="13" fill="#56665a"/><rect x="322" y="648" width="12" height="13" fill="#56665a"/><rect x="351" y="654" width="12" height="13" fill="#56665a"/><rect x="380" y="659" width="12" height="13" fill="#56665a"/><rect x="409" y="664" width="12" height="13" fill="#56665a"/><rect x="438" y="670" width="12" height="13" fill="#56665a"/><rect x="322" y="671" width="12" height="13" fill="#56665a"/><rect x="351" y="676" width="12" height="13" fill="#56665a"/><rect x="380" y="682" width="12" height="13" fill="#56665a"/><rect x="409" y="688" width="12" height="13" fill="#56665a"/><rect x="438" y="693" width="12" height="13" fill="#56665a"/><rect x="562" y="392" width="12" height="13" fill="#6e7a62"/><rect x="591" y="384" width="12" height="13" fill="#6e7a62"/><rect x="620" y="376" width="12" height="13" fill="#6e7a62"/><rect x="649" y="368" width="12" height="13" fill="#6e7a62"/><rect x="678" y="360" width="12" height="13" fill="#6e7a62"/><rect x="562" y="415" width="12" height="13" fill="#6e7a62"/><rect x="591" y="407" width="12" height="13" fill="#6e7a62"/><rect x="620" y="399" width="12" height="13" fill="#6e7a62"/><rect x="649" y="391" width="12" height="13" fill="#6e7a62"/><rect x="678" y="383" width="12" height="13" fill="#6e7a62"/><rect x="562" y="438" width="12" height="13" fill="#6e7a62"/><rect x="591" y="430" width="12" height="13" fill="#6e7a62"/><rect x="620" y="422" width="12" height="13" fill="#6e7a62"/><rect x="649" y="414" width="12" height="13" fill="#6e7a62"/><rect x="678" y="406" width="12" height="13" fill="#6e7a62"/><rect x="562" y="461" width="12" height="13" fill="#6e7a62"/><rect x="591" y="453" width="12" height="13" fill="#6e7a62"/><rect x="620" y="445" width="12" height="13" fill="#6e7a62"/><rect x="649" y="437" width="12" height="13" fill="#6e7a62"/><rect x="678" y="429" width="12" height="13" fill="#6e7a62"/><rect x="562" y="484" width="12" height="13" fill="#6e7a62"/><rect x="591" y="476" width="12" height="13" fill="#6e7a62"/><rect x="620" y="468" width="12" height="13" fill="#6e7a62"/><rect x="649" y="460" width="12" height="13" fill="#6e7a62"/><rect x="678" y="452" width="12" height="13" fill="#6e7a62"/><rect x="562" y="507" width="12" height="13" fill="#6e7a62"/><rect x="591" y="499" width="12" height="13" fill="#6e7a62"/><rect x="620" y="491" width="12" height="13" fill="#6e7a62"/><rect x="649" y="483" width="12" height="13" fill="#6e7a62"/><rect x="678" y="475" width="12" height="13" fill="#6e7a62"/><rect x="562" y="530" width="12" height="13" fill="#6e7a62"/><rect x="591" y="522" width="12" height="13" fill="#6e7a62"/><rect x="620" y="514" width="12" height="13" fill="#6e7a62"/><rect x="649" y="506" width="12" height="13" fill="#6e7a62"/><rect x="678" y="498" width="12" height="13" fill="#6e7a62"/><rect x="562" y="553" width="12" height="13" fill="#6e7a62"/><rect x="591" y="545" width="12" height="13" fill="#6e7a62"/><rect x="620" y="537" width="12" height="13" fill="#6e7a62"/><rect x="649" y="529" width="12" height="13" fill="#6e7a62"/><rect x="678" y="521" width="12" height="13" fill="#6e7a62"/><rect x="562" y="576" width="12" height="13" fill="#6e7a62"/><rect x="591" y="568" width="12" height="13" fill="#6e7a62"/><rect x="620" y="560" width="12" height="13" fill="#6e7a62"/><rect x="649" y="552" width="12" height="13" fill="#6e7a62"/><rect x="678" y="544" width="12" height="13" fill="#6e7a62"/><rect x="562" y="599" width="12" height="13" fill="#6e7a62"/><rect x="591" y="591" width="12" height="13" fill="#6e7a62"/><rect x="620" y="583" width="12" height="13" fill="#6e7a62"/><rect x="649" y="575" width="12" height="13" fill="#6e7a62"/><rect x="678" y="567" width="12" height="13" fill="#6e7a62"/><rect x="562" y="622" width="12" height="13" fill="#6e7a62"/><rect x="591" y="614" width="12" height="13" fill="#6e7a62"/><rect x="620" y="606" width="12" height="13" fill="#6e7a62"/><rect x="649" y="598" width="12" height="13" fill="#6e7a62"/><rect x="678" y="590" width="12" height="13" fill="#6e7a62"/><rect x="562" y="645" width="12" height="13" fill="#6e7a62"/><rect x="591" y="637" width="12" height="13" fill="#6e7a62"/><rect x="620" y="629" width="12" height="13" fill="#6e7a62"/><rect x="649" y="621" width="12" height="13" fill="#6e7a62"/><rect x="678" y="613" width="12" height="13" fill="#6e7a62"/><rect x="562" y="668" width="12" height="13" fill="#6e7a62"/><rect x="591" y="660" width="12" height="13" fill="#6e7a62"/><rect x="620" y="652" width="12" height="13" fill="#6e7a62"/><rect x="649" y="644" width="12" height="13" fill="#6e7a62"/><rect x="678" y="636" width="12" height="13" fill="#6e7a62"/><rect x="562" y="691" width="12" height="13" fill="#6e7a62"/><rect x="591" y="683" width="12" height="13" fill="#6e7a62"/><rect x="620" y="675" width="12" height="13" fill="#6e7a62"/><rect x="649" y="667" width="12" height="13" fill="#6e7a62"/><rect x="678" y="659" width="12" height="13" fill="#6e7a62"/><rect x="486" y="356" width="10" height="13" fill="#4e5c50"/><rect x="512" y="356" width="10" height="13" fill="#4e5c50"/><rect x="486" y="379" width="10" height="13" fill="#4e5c50"/><rect x="512" y="379" width="10" height="13" fill="#4e5c50"/><rect x="486" y="402" width="10" height="13" fill="#4e5c50"/><rect x="512" y="402" width="10" height="13" fill="#4e5c50"/><rect x="486" y="425" width="10" height="13" fill="#4e5c50"/><rect x="512" y="425" width="10" height="13" fill="#4e5c50"/><rect x="486" y="448" width="10" height="13" fill="#4e5c50"/><rect x="512" y="448" width="10" height="13" fill="#4e5c50"/><rect x="486" y="471" width="10" height="13" fill="#4e5c50"/><rect x="512" y="471" width="10" height="13" fill="#4e5c50"/><rect x="486" y="494" width="10" height="13" fill="#4e5c50"/><rect x="512" y="494" width="10" height="13" fill="#4e5c50"/><rect x="486" y="517" width="10" height="13" fill="#4e5c50"/><rect x="512" y="517" width="10" height="13" fill="#4e5c50"/><rect x="486" y="540" width="10" height="13" fill="#4e5c50"/><rect x="512" y="540" width="10" height="13" fill="#4e5c50"/><rect x="486" y="563" width="10" height="13" fill="#4e5c50"/><rect x="512" y="563" width="10" height="13" fill="#4e5c50"/><rect x="486" y="586" width="10" height="13" fill="#4e5c50"/><rect x="512" y="586" width="10" height="13" fill="#4e5c50"/><rect x="486" y="609" width="10" height="13" fill="#4e5c50"/><rect x="512" y="609" width="10" height="13" fill="#4e5c50"/><rect x="486" y="632" width="10" height="13" fill="#4e5c50"/><rect x="512" y="632" width="10" height="13" fill="#4e5c50"/><rect x="486" y="655" width="10" height="13" fill="#4e5c50"/><rect x="512" y="655" width="10" height="13" fill="#4e5c50"/><rect x="486" y="678" width="10" height="13" fill="#4e5c50"/><rect x="512" y="678" width="10" height="13" fill="#4e5c50"/><rect x="486" y="701" width="10" height="13" fill="#4e5c50"/><rect x="512" y="701" width="10" height="13" fill="#4e5c50"/></g>
<g transform="translate(880,285) scale(0.13067)" stroke-linejoin="round"><path d="M115,295 L580,450 L580,555 L115,400 Z" fill="#e3eaed"/><path d="M115,345 L580,500 L580,555 L115,400 Z" fill="#f3f6f8" opacity="0.7"/><path d="M580,450 L975,310 L975,415 L580,555 Z" fill="#d6e0e4"/><path d="M580,500 L975,360 L975,415 L580,555 Z" fill="#eef2f5" opacity="0.7"/><path d="M115,295 L520,155 L975,310 L580,450 Z" fill="#a9c7cc"/><path d="M115,295 L580,450 L975,310 L975,322 L580,464 L115,308 Z" fill="#8fb0b8"/><path d="M340,330 L580,400 L580,440 L340,372 Z" fill="#1fbf5c"/><path d="M580,400 L795,322 L795,365 L580,440 Z" fill="#bdf6cc"/><path d="M340,330 L560,262 L795,322 L580,400 Z" fill="#4fe08c"/><path d="M340,240 L430,266 L430,352 L340,330 Z" fill="#1fbf5c"/><path d="M430,266 L520,232 L520,330 L430,352 Z" fill="#b5f5c6"/><path d="M340,240 L440,200 L520,232 L430,266 Z" fill="#45dc84"/><path d="M525,272 L610,298 L610,342 L525,318 Z" fill="#1fbf5c"/><path d="M610,298 L720,258 L720,305 L610,342 Z" fill="#c4f8d2"/><path d="M525,272 L635,232 L720,258 L610,298 Z" fill="#4fe08c"/><rect x="445" y="375" width="32" height="40" fill="#0c2a16"/><ellipse cx="362" cy="272" rx="13" ry="11" fill="#111"/><ellipse cx="398" cy="282" rx="13" ry="11" fill="#111"/><ellipse cx="372" cy="356" rx="13" ry="11" fill="#111"/><ellipse cx="408" cy="366" rx="13" ry="11" fill="#111"/><ellipse cx="505" cy="392" rx="13" ry="11" fill="#111"/><ellipse cx="540" cy="402" rx="13" ry="11" fill="#111"/><ellipse cx="605" cy="400" rx="13" ry="11" fill="#111"/><ellipse cx="640" cy="388" rx="13" ry="11" fill="#111"/><ellipse cx="718" cy="362" rx="13" ry="11" fill="#111"/><ellipse cx="752" cy="350" rx="13" ry="11" fill="#111"/><ellipse cx="545" cy="296" rx="13" ry="11" fill="#111"/><ellipse cx="580" cy="306" rx="13" ry="11" fill="#111"/><ellipse cx="645" cy="298" rx="13" ry="11" fill="#111"/><ellipse cx="680" cy="286" rx="13" ry="11" fill="#111"/><rect x="385" y="160" width="32" height="80" rx="6" fill="#a8a8a8"/><rect x="403" y="160" width="14" height="80" rx="5" fill="#7e7e7e"/><path d="M391,165 Q415,147 395,135" fill="none" stroke="#c6c6c6" stroke-width="7"/><rect x="436" y="147" width="32" height="75" rx="6" fill="#a8a8a8"/><rect x="454" y="147" width="14" height="75" rx="5" fill="#7e7e7e"/><path d="M442,152 Q466,134 446,122" fill="none" stroke="#c6c6c6" stroke-width="7"/><rect x="563" y="220" width="32" height="43" rx="6" fill="#a8a8a8"/><rect x="581" y="220" width="14" height="43" rx="5" fill="#7e7e7e"/><path d="M569,225 Q593,207 573,195" fill="none" stroke="#c6c6c6" stroke-width="7"/><rect x="600" y="210" width="32" height="40" rx="6" fill="#a8a8a8"/><rect x="618" y="210" width="14" height="40" rx="5" fill="#7e7e7e"/><path d="M606,215 Q630,197 610,185" fill="none" stroke="#c6c6c6" stroke-width="7"/></g>
<g transform="translate(60,465) scale(0.12422)" stroke-linejoin="round"><rect x="60" y="60" width="640" height="500" fill="#fff"/><path d="M200,235 L395,85 Q420,75 450,85 L650,160 Q680,175 680,205 L665,390 L470,510 L330,465 L200,300 Z" fill="url(#prn)"/><path d="M200,235 L455,325 L470,510 L330,465 L200,300 Z" fill="#ececee"/><path d="M455,325 L680,205 L665,390 L470,510 Z" fill="#c9c4ca"/><path d="M200,235 L395,85 Q420,75 450,85 L650,160 Q680,175 680,205 L455,325 Z" fill="#f3f2f4"/><path d="M310,180 L395,100 Q415,92 440,100 L600,155 L500,240 Z" fill="#9c8f92"/><path d="M335,185 L405,118 L585,165 L495,235 Z" fill="#cfc9ca"/><path d="M310,180 L345,120 Q370,95 400,95" fill="none" stroke="#7a3038" stroke-width="6"/><path d="M245,215 L290,205 L300,225 L255,238 Z" fill="#555a66"/><circle cx="462" cy="270" r="12" fill="#2f8fae"/><circle cx="485" cy="340" r="11" fill="#2f8fae"/><path d="M232,300 L400,352 L400,372 L232,318 Z" fill="#a9a4aa"/><path d="M235,305 L395,350 L290,520 L130,455 Z" fill="#fafafa" stroke="#d8d8d8" stroke-width="3"/><path d="M225,335 L345,372 M210,360 L330,398 M195,385 L300,420" stroke="#9a9a9a" stroke-width="5"/><path d="M160,420 L285,470 L268,500 L142,450 Z" fill="#9c8f92"/><path d="M235,415 L290,435 L280,452 L228,432 Z" fill="#555"/></g>
<g transform="translate(60,465) scale(0.12422)"><rect x="750" y="60" width="440" height="405" fill="#fff"/><rect x="750" y="62" width="390" height="393" fill="url(#boxBr)"/><rect x="750" y="62" width="390" height="14" fill="#e0b674"/><rect x="922" y="62" width="46" height="393" fill="#a77a30"/><rect x="922" y="62" width="46" height="60" fill="#8f6424"/><rect x="788" y="150" width="170" height="162" fill="#f4f4f2"/><path d="M815,185 H920 M815,210 H920 M815,235 H900 M815,270 H870" stroke="#b5b5b5" stroke-width="8"/><rect x="1045" y="85" width="75" height="40" fill="#e3b55e"/><path d="M1058,118 L1082,95 L1106,118" fill="none" stroke="#8f6424" stroke-width="6"/><path d="M1118,408 L1150,388 L1195,455 L1160,468 Z" fill="#9db3bf"/><path d="M1125,410 L1143,398 L1180,455 L1165,462 Z" fill="#dfe8ee"/><circle cx="1050" cy="275" r="148" fill="#c5d3db"/><circle cx="1050" cy="275" r="138" fill="#e4ecf0"/><circle cx="1050" cy="275" r="122" fill="#fdfdfd"/><rect x="968" y="225" width="8" height="140" fill="#4a4a4a"/><rect x="988" y="225" width="30" height="105" fill="#4a4a4a"/><rect x="1022" y="225" width="6" height="140" fill="#4a4a4a"/><rect x="1035" y="225" width="8" height="105" fill="#4a4a4a"/><rect x="1055" y="225" width="26" height="105" fill="#4a4a4a"/><rect x="1090" y="225" width="10" height="105" fill="#4a4a4a"/><rect x="1108" y="225" width="28" height="105" fill="#4a4a4a"/><rect x="1140" y="225" width="8" height="105" fill="#4a4a4a"/><rect x="995" y="345" width="95" height="16" fill="#777"/></g>
<line x1="371.8" y1="125.5" x2="592" y2="236" stroke="#7dc447" stroke-width="3.5" stroke-dasharray="14 10.5" stroke-dashoffset="0"/>
<line x1="1120" y1="100" x2="925" y2="228" stroke="#7dc447" stroke-width="3.5" stroke-dasharray="14 10.5" stroke-dashoffset="0"/>
<line x1="186.5" y1="332.5" x2="415" y2="290" stroke="#7dc447" stroke-width="3.5" stroke-dasharray="14 10.5" stroke-dashoffset="0"/>
<line x1="186.5" y1="332.5" x2="556" y2="345.3" stroke="#7dc447" stroke-width="3.5" stroke-dasharray="14 10.5" stroke-dashoffset="0"/>
<line x1="186.5" y1="332.5" x2="626" y2="416.6" stroke="#7dc447" stroke-width="3.5" stroke-dasharray="14 10.5" stroke-dashoffset="0"/>
<line x1="177.6" y1="416" x2="506" y2="306" stroke="#7dc447" stroke-width="3.5" stroke-dasharray="14 10.5" stroke-dashoffset="0"/>
<line x1="177.6" y1="416" x2="545" y2="347.4" stroke="#7dc447" stroke-width="3.5" stroke-dasharray="14 10.5" stroke-dashoffset="0"/>
<line x1="177.6" y1="416" x2="640" y2="420.8" stroke="#7dc447" stroke-width="3.5" stroke-dasharray="14 10.5" stroke-dashoffset="0"/>
<line x1="610.2" y1="410.7" x2="785.4" y2="624.4" stroke="#7dc447" stroke-width="3.5" stroke-dasharray="14 10.5" stroke-dashoffset="0"/>
<line x1="736" y1="467" x2="786" y2="624.4" stroke="#7dc447" stroke-width="3.5" stroke-dasharray="14 10.5" stroke-dashoffset="0"/>
<line x1="896" y1="467" x2="850" y2="624.4" stroke="#7dc447" stroke-width="3.5" stroke-dasharray="14 10.5" stroke-dashoffset="0"/>
<line x1="1045.4" y1="308.6" x2="852" y2="624.4" stroke="#7dc447" stroke-width="3.5" stroke-dasharray="14 10.5" stroke-dashoffset="0"/>
<line x1="1070" y1="251.6" x2="1479" y2="314.4" stroke="#7dc447" stroke-width="3.5" stroke-dasharray="14 10.5" stroke-dashoffset="0"/>
<line x1="1070" y1="251.6" x2="1433" y2="436.7" stroke="#7dc447" stroke-width="3.5" stroke-dasharray="14 10.5" stroke-dashoffset="0"/>
<line x1="757" y1="401" x2="1396.7" y2="334.4" stroke="#7dc447" stroke-width="3.5" stroke-dasharray="14 10.5" stroke-dashoffset="0"/>
<line x1="958.5" y1="410.4" x2="1396.7" y2="334.4" stroke="#7dc447" stroke-width="3.5" stroke-dasharray="14 10.5" stroke-dashoffset="0"/>
<line x1="959.3" y1="425.3" x2="1433" y2="436.7" stroke="#7dc447" stroke-width="3.5" stroke-dasharray="14 10.5" stroke-dashoffset="0"/>
<line x1="769" y1="420" x2="1433" y2="436.9" stroke="#7dc447" stroke-width="3.5" stroke-dasharray="14 10.5" stroke-dashoffset="0"/>
<line x1="141.4" y1="550" x2="598" y2="671" stroke="#7dc447" stroke-width="3.5" stroke-dasharray="14 10.5" stroke-dashoffset="0"/>
<line x1="1032.5" y1="670" x2="1416" y2="505" stroke="#7dc447" stroke-width="3.5" stroke-dasharray="14 10.5" stroke-dashoffset="0"/>
<path d="M640.0,418 L640.0,422.0 A64.0,34.0 0 0 0 768.0,422.0 L768.0,418 Z" fill="url(#gdSide)"/>
<ellipse cx="704" cy="418" rx="64.0" ry="34.0" fill="url(#gdTop)"/>
<ellipse cx="694.0" cy="410.0" rx="51.2" ry="21.08" fill="#e2f5c8" opacity="0.45" filter="url(#blur3)"/>
<path d="M640.0,418 A64.0,34.0 0 0 0 768.0,418" fill="none" stroke="#c2ea9c" stroke-width="1.2" opacity="0.8"/>
<g transform="translate(630.00,375.00) scale(0.13067)" stroke-linejoin="round"><path d="M470,205 L515,160 L822,262 L738,352 Z" fill="url(#roofB)" stroke="#3a4c60" stroke-width="8"/><path d="M504,223 L553,173" stroke="#43608a" stroke-width="6"/><path d="M537,242 L592,186" stroke="#43608a" stroke-width="6"/><path d="M570,260 L630,198" stroke="#43608a" stroke-width="6"/><path d="M604,278 L668,211" stroke="#43608a" stroke-width="6"/><path d="M638,297 L707,224" stroke="#43608a" stroke-width="6"/><path d="M671,315 L745,236" stroke="#43608a" stroke-width="6"/><path d="M704,334 L784,249" stroke="#43608a" stroke-width="6"/><path d="M712,352 L822,266 L908,318 L908,452 L712,476 Z" fill="#e9edf0" stroke="#9aa6ad" stroke-width="3"/><path d="M822,262 L908,316" stroke="#3f5468" stroke-width="7"/><path d="M800,398 L880,386 L880,456 L800,468 Z" fill="#7d8d9c"/><path d="M770,372 L870,345" stroke="#fff" stroke-width="8"/><path d="M222,268 L540,358 L540,495 L222,402 Z" fill="#a7b4ae"/><path d="M540,355 L625,264 L712,352 L712,462 L540,495 Z" fill="#eef1f3" stroke="#9aa6ad" stroke-width="3"/><path d="M588,396 L675,384 L675,466 L588,480 Z" fill="#7d8d9c"/><path d="M572,378 L690,360" stroke="#fff" stroke-width="9"/><path d="M215,258 L312,163 L625,258 L540,352 Z" fill="url(#roofB)" stroke="#3a4c60" stroke-width="8"/><path d="M251,268 L347,174" stroke="#43608a" stroke-width="6"/><path d="M287,279 L382,184" stroke="#43608a" stroke-width="6"/><path d="M323,289 L416,195" stroke="#43608a" stroke-width="6"/><path d="M359,300 L451,205" stroke="#43608a" stroke-width="6"/><path d="M396,310 L486,216" stroke="#43608a" stroke-width="6"/><path d="M432,321 L521,226" stroke="#43608a" stroke-width="6"/><path d="M468,331 L555,237" stroke="#43608a" stroke-width="6"/><path d="M504,342 L590,247" stroke="#43608a" stroke-width="6"/><path d="M625,258 L712,350" stroke="#3f5468" stroke-width="7"/><path d="M280,375 L325,387.6 L325,427.6 L280,415 Z" fill="#eeb072"/><path d="M325,387.6 L349.75,376.46250000000003 L349.75,416.46250000000003 L325,427.6 Z" fill="#e08f4e"/><path d="M280,375 L304.75,363.8625 L349.75,376.46250000000003 L325,387.6 Z" fill="#fbd5a6"/><path d="M300,345 L342,356.76 L342,394.76 L300,383 Z" fill="#eeb072"/><path d="M342,356.76 L365.1,346.365 L365.1,384.365 L342,394.76 Z" fill="#e08f4e"/><path d="M300,345 L323.1,334.605 L365.1,346.365 L342,356.76 Z" fill="#fbd5a6"/><path d="M325,395 L373,408.44 L373,450.44 L325,437 Z" fill="#eeb072"/><path d="M373,408.44 L399.4,396.56 L399.4,438.56 L373,450.44 Z" fill="#e08f4e"/><path d="M325,395 L351.4,383.12 L399.4,396.56 L373,408.44 Z" fill="#fbd5a6"/><path d="M290,430 L340,444.0 L340,489.0 L290,475 Z" fill="#eeb072"/><path d="M340,444.0 L367.5,431.625 L367.5,476.625 L340,489.0 Z" fill="#e08f4e"/><path d="M290,430 L317.5,417.625 L367.5,431.625 L340,444.0 Z" fill="#fbd5a6"/><path d="M378,440 L428,454.0 L428,494.0 L378,480 Z" fill="#eeb072"/><path d="M428,454.0 L455.5,441.625 L455.5,481.625 L428,494.0 Z" fill="#e08f4e"/><path d="M378,440 L405.5,427.625 L455.5,441.625 L428,454.0 Z" fill="#fbd5a6"/><path d="M705,420 L745,431.2 L745,467.2 L705,456 Z" fill="#eeb072"/><path d="M745,431.2 L767.0,421.3 L767.0,457.3 L745,467.2 Z" fill="#e08f4e"/><path d="M705,420 L727.0,410.1 L767.0,421.3 L745,431.2 Z" fill="#fbd5a6"/><path d="M735,392 L777,403.76 L777,439.76 L735,428 Z" fill="#eeb072"/><path d="M777,403.76 L800.1,393.365 L800.1,429.365 L777,439.76 Z" fill="#e08f4e"/><path d="M735,392 L758.1,381.605 L800.1,393.365 L777,403.76 Z" fill="#fbd5a6"/><path d="M752,435 L797,447.6 L797,487.6 L752,475 Z" fill="#eeb072"/><path d="M797,447.6 L821.75,436.46250000000003 L821.75,476.46250000000003 L797,487.6 Z" fill="#e08f4e"/><path d="M752,435 L776.75,423.8625 L821.75,436.46250000000003 L797,447.6 Z" fill="#fbd5a6"/></g>
<path d="M830.5,418.5 L830.5,422.5 A64.0,34.0 0 0 0 958.5,422.5 L958.5,418.5 Z" fill="url(#gdSide)"/>
<ellipse cx="894.5" cy="418.5" rx="64.0" ry="34.0" fill="url(#gdTop)"/>
<ellipse cx="884.5" cy="410.5" rx="51.2" ry="21.08" fill="#e2f5c8" opacity="0.45" filter="url(#blur3)"/>
<path d="M830.5,418.5 A64.0,34.0 0 0 0 958.5,418.5" fill="none" stroke="#c2ea9c" stroke-width="1.2" opacity="0.8"/>
<g transform="translate(820.50,375.50) scale(0.13067)" stroke-linejoin="round"><path d="M470,205 L515,160 L822,262 L738,352 Z" fill="url(#roofB)" stroke="#3a4c60" stroke-width="8"/><path d="M504,223 L553,173" stroke="#43608a" stroke-width="6"/><path d="M537,242 L592,186" stroke="#43608a" stroke-width="6"/><path d="M570,260 L630,198" stroke="#43608a" stroke-width="6"/><path d="M604,278 L668,211" stroke="#43608a" stroke-width="6"/><path d="M638,297 L707,224" stroke="#43608a" stroke-width="6"/><path d="M671,315 L745,236" stroke="#43608a" stroke-width="6"/><path d="M704,334 L784,249" stroke="#43608a" stroke-width="6"/><path d="M712,352 L822,266 L908,318 L908,452 L712,476 Z" fill="#e9edf0" stroke="#9aa6ad" stroke-width="3"/><path d="M822,262 L908,316" stroke="#3f5468" stroke-width="7"/><path d="M800,398 L880,386 L880,456 L800,468 Z" fill="#7d8d9c"/><path d="M770,372 L870,345" stroke="#fff" stroke-width="8"/><path d="M222,268 L540,358 L540,495 L222,402 Z" fill="#a7b4ae"/><path d="M540,355 L625,264 L712,352 L712,462 L540,495 Z" fill="#eef1f3" stroke="#9aa6ad" stroke-width="3"/><path d="M588,396 L675,384 L675,466 L588,480 Z" fill="#7d8d9c"/><path d="M572,378 L690,360" stroke="#fff" stroke-width="9"/><path d="M215,258 L312,163 L625,258 L540,352 Z" fill="url(#roofB)" stroke="#3a4c60" stroke-width="8"/><path d="M251,268 L347,174" stroke="#43608a" stroke-width="6"/><path d="M287,279 L382,184" stroke="#43608a" stroke-width="6"/><path d="M323,289 L416,195" stroke="#43608a" stroke-width="6"/><path d="M359,300 L451,205" stroke="#43608a" stroke-width="6"/><path d="M396,310 L486,216" stroke="#43608a" stroke-width="6"/><path d="M432,321 L521,226" stroke="#43608a" stroke-width="6"/><path d="M468,331 L555,237" stroke="#43608a" stroke-width="6"/><path d="M504,342 L590,247" stroke="#43608a" stroke-width="6"/><path d="M625,258 L712,350" stroke="#3f5468" stroke-width="7"/><path d="M280,375 L325,387.6 L325,427.6 L280,415 Z" fill="#eeb072"/><path d="M325,387.6 L349.75,376.46250000000003 L349.75,416.46250000000003 L325,427.6 Z" fill="#e08f4e"/><path d="M280,375 L304.75,363.8625 L349.75,376.46250000000003 L325,387.6 Z" fill="#fbd5a6"/><path d="M300,345 L342,356.76 L342,394.76 L300,383 Z" fill="#eeb072"/><path d="M342,356.76 L365.1,346.365 L365.1,384.365 L342,394.76 Z" fill="#e08f4e"/><path d="M300,345 L323.1,334.605 L365.1,346.365 L342,356.76 Z" fill="#fbd5a6"/><path d="M325,395 L373,408.44 L373,450.44 L325,437 Z" fill="#eeb072"/><path d="M373,408.44 L399.4,396.56 L399.4,438.56 L373,450.44 Z" fill="#e08f4e"/><path d="M325,395 L351.4,383.12 L399.4,396.56 L373,408.44 Z" fill="#fbd5a6"/><path d="M290,430 L340,444.0 L340,489.0 L290,475 Z" fill="#eeb072"/><path d="M340,444.0 L367.5,431.625 L367.5,476.625 L340,489.0 Z" fill="#e08f4e"/><path d="M290,430 L317.5,417.625 L367.5,431.625 L340,444.0 Z" fill="#fbd5a6"/><path d="M378,440 L428,454.0 L428,494.0 L378,480 Z" fill="#eeb072"/><path d="M428,454.0 L455.5,441.625 L455.5,481.625 L428,494.0 Z" fill="#e08f4e"/><path d="M378,440 L405.5,427.625 L455.5,441.625 L428,454.0 Z" fill="#fbd5a6"/><path d="M705,420 L745,431.2 L745,467.2 L705,456 Z" fill="#eeb072"/><path d="M745,431.2 L767.0,421.3 L767.0,457.3 L745,467.2 Z" fill="#e08f4e"/><path d="M705,420 L727.0,410.1 L767.0,421.3 L745,431.2 Z" fill="#fbd5a6"/><path d="M735,392 L777,403.76 L777,439.76 L735,428 Z" fill="#eeb072"/><path d="M777,403.76 L800.1,393.365 L800.1,429.365 L777,439.76 Z" fill="#e08f4e"/><path d="M735,392 L758.1,381.605 L800.1,393.365 L777,403.76 Z" fill="#fbd5a6"/><path d="M752,435 L797,447.6 L797,487.6 L752,475 Z" fill="#eeb072"/><path d="M797,447.6 L821.75,436.46250000000003 L821.75,476.46250000000003 L797,487.6 Z" fill="#e08f4e"/><path d="M752,435 L776.75,423.8625 L821.75,436.46250000000003 L797,447.6 Z" fill="#fbd5a6"/></g>
<path d="M1367.24,569.5 L1367.24,575.76 A100.16,53.21 0 0 0 1567.5600000000002,575.76 L1567.5600000000002,569.5 Z" fill="url(#gdSide)"/>
<ellipse cx="1467.4" cy="569.5" rx="100.16" ry="53.21" fill="url(#gdTop)"/>
<ellipse cx="1451.75" cy="556.98" rx="80.128" ry="32.9902" fill="#e2f5c8" opacity="0.45" filter="url(#blur3)"/>
<path d="M1367.24,569.5 A100.16,53.21 0 0 0 1567.5600000000002,569.5" fill="none" stroke="#c2ea9c" stroke-width="1.878" opacity="0.8"/>
<g transform="translate(1351.59,502.20) scale(0.20449)" stroke-linejoin="round"><path d="M470,205 L515,160 L822,262 L738,352 Z" fill="url(#roofB)" stroke="#3a4c60" stroke-width="8"/><path d="M504,223 L553,173" stroke="#43608a" stroke-width="6"/><path d="M537,242 L592,186" stroke="#43608a" stroke-width="6"/><path d="M570,260 L630,198" stroke="#43608a" stroke-width="6"/><path d="M604,278 L668,211" stroke="#43608a" stroke-width="6"/><path d="M638,297 L707,224" stroke="#43608a" stroke-width="6"/><path d="M671,315 L745,236" stroke="#43608a" stroke-width="6"/><path d="M704,334 L784,249" stroke="#43608a" stroke-width="6"/><path d="M712,352 L822,266 L908,318 L908,452 L712,476 Z" fill="#e9edf0" stroke="#9aa6ad" stroke-width="3"/><path d="M822,262 L908,316" stroke="#3f5468" stroke-width="7"/><path d="M800,398 L880,386 L880,456 L800,468 Z" fill="#7d8d9c"/><path d="M770,372 L870,345" stroke="#fff" stroke-width="8"/><path d="M222,268 L540,358 L540,495 L222,402 Z" fill="#a7b4ae"/><path d="M540,355 L625,264 L712,352 L712,462 L540,495 Z" fill="#eef1f3" stroke="#9aa6ad" stroke-width="3"/><path d="M588,396 L675,384 L675,466 L588,480 Z" fill="#7d8d9c"/><path d="M572,378 L690,360" stroke="#fff" stroke-width="9"/><path d="M215,258 L312,163 L625,258 L540,352 Z" fill="url(#roofB)" stroke="#3a4c60" stroke-width="8"/><path d="M251,268 L347,174" stroke="#43608a" stroke-width="6"/><path d="M287,279 L382,184" stroke="#43608a" stroke-width="6"/><path d="M323,289 L416,195" stroke="#43608a" stroke-width="6"/><path d="M359,300 L451,205" stroke="#43608a" stroke-width="6"/><path d="M396,310 L486,216" stroke="#43608a" stroke-width="6"/><path d="M432,321 L521,226" stroke="#43608a" stroke-width="6"/><path d="M468,331 L555,237" stroke="#43608a" stroke-width="6"/><path d="M504,342 L590,247" stroke="#43608a" stroke-width="6"/><path d="M625,258 L712,350" stroke="#3f5468" stroke-width="7"/><path d="M280,375 L325,387.6 L325,427.6 L280,415 Z" fill="#eeb072"/><path d="M325,387.6 L349.75,376.46250000000003 L349.75,416.46250000000003 L325,427.6 Z" fill="#e08f4e"/><path d="M280,375 L304.75,363.8625 L349.75,376.46250000000003 L325,387.6 Z" fill="#fbd5a6"/><path d="M300,345 L342,356.76 L342,394.76 L300,383 Z" fill="#eeb072"/><path d="M342,356.76 L365.1,346.365 L365.1,384.365 L342,394.76 Z" fill="#e08f4e"/><path d="M300,345 L323.1,334.605 L365.1,346.365 L342,356.76 Z" fill="#fbd5a6"/><path d="M325,395 L373,408.44 L373,450.44 L325,437 Z" fill="#eeb072"/><path d="M373,408.44 L399.4,396.56 L399.4,438.56 L373,450.44 Z" fill="#e08f4e"/><path d="M325,395 L351.4,383.12 L399.4,396.56 L373,408.44 Z" fill="#fbd5a6"/><path d="M290,430 L340,444.0 L340,489.0 L290,475 Z" fill="#eeb072"/><path d="M340,444.0 L367.5,431.625 L367.5,476.625 L340,489.0 Z" fill="#e08f4e"/><path d="M290,430 L317.5,417.625 L367.5,431.625 L340,444.0 Z" fill="#fbd5a6"/><path d="M378,440 L428,454.0 L428,494.0 L378,480 Z" fill="#eeb072"/><path d="M428,454.0 L455.5,441.625 L455.5,481.625 L428,494.0 Z" fill="#e08f4e"/><path d="M378,440 L405.5,427.625 L455.5,441.625 L428,454.0 Z" fill="#fbd5a6"/><path d="M705,420 L745,431.2 L745,467.2 L705,456 Z" fill="#eeb072"/><path d="M745,431.2 L767.0,421.3 L767.0,457.3 L745,467.2 Z" fill="#e08f4e"/><path d="M705,420 L727.0,410.1 L767.0,421.3 L745,431.2 Z" fill="#fbd5a6"/><path d="M735,392 L777,403.76 L777,439.76 L735,428 Z" fill="#eeb072"/><path d="M777,403.76 L800.1,393.365 L800.1,429.365 L777,439.76 Z" fill="#e08f4e"/><path d="M735,392 L758.1,381.605 L800.1,393.365 L777,403.76 Z" fill="#fbd5a6"/><path d="M752,435 L797,447.6 L797,487.6 L752,475 Z" fill="#eeb072"/><path d="M797,447.6 L821.75,436.46250000000003 L821.75,476.46250000000003 L797,487.6 Z" fill="#e08f4e"/><path d="M752,435 L776.75,423.8625 L821.75,436.46250000000003 L797,447.6 Z" fill="#fbd5a6"/></g>
<g transform="translate(1420,395) scale(0.14382)" stroke-linejoin="round"><path d="M120,318 C120,262 195,238 305,238 C415,238 490,262 490,318 C490,368 405,386 305,386 C205,386 120,368 120,318 Z" fill="url(#suitG)" stroke="#2d6d0a" stroke-width="7"/><path d="M235,248 L275,298 L305,270 L335,298 L375,248 Z" fill="#f2f2ea"/><ellipse cx="157" cy="190" rx="20" ry="24" fill="#f7b26a" stroke="#3a2410" stroke-width="5"/><ellipse cx="453" cy="190" rx="20" ry="24" fill="#f7b26a" stroke="#3a2410" stroke-width="5"/><ellipse cx="305" cy="180" rx="150" ry="112" fill="url(#skin)" stroke="#3a2410" stroke-width="6"/><path d="M155,180 C145,95 225,62 305,62 C385,62 465,95 455,180 C435,140 385,125 345,128 C285,160 205,160 167,150 Z" fill="url(#hairBr)" stroke="#3a2410" stroke-width="5"/><path d="M260,232 Q305,222 350,232 Q345,278 305,280 Q265,278 260,232 Z M280,245 Q305,238 330,245 Q325,265 305,266 Q285,265 280,245 Z" fill="#6a4020" fill-rule="evenodd"/><path d="M487,318 C487,262 562,238 672,238 C782,238 857,262 857,318 C857,368 772,386 672,386 C572,386 487,368 487,318 Z" fill="url(#suitG)" stroke="#2d6d0a" stroke-width="7"/><path d="M602,248 L642,298 L672,270 L702,298 L742,248 Z" fill="#f2f2ea"/><ellipse cx="524" cy="190" rx="20" ry="24" fill="#f7b26a" stroke="#3a2410" stroke-width="5"/><ellipse cx="820" cy="190" rx="20" ry="24" fill="#f7b26a" stroke="#3a2410" stroke-width="5"/><ellipse cx="672" cy="180" rx="150" ry="112" fill="url(#skin)" stroke="#3a2410" stroke-width="6"/><path d="M522,180 C512,95 592,62 672,62 C752,62 832,95 822,180 C802,140 752,125 712,128 C652,160 572,160 534,150 Z" fill="url(#hairBr)" stroke="#3a2410" stroke-width="5"/><path d="M295,455 C295,400 380,378 490,378 C600,378 685,400 685,455 C685,508 590,526 490,526 C390,526 295,508 295,455 Z" fill="url(#suitG)" stroke="#2d6d0a" stroke-width="7"/><path d="M325,420 L380,388 L490,470 L600,388 L655,420 L590,412 L490,468 L390,412 Z" fill="#fff"/><path d="M420,392 L490,462 L560,392 Z" fill="#f9c68a"/><path d="M325,400 C315,250 380,188 490,188 C600,188 665,250 655,400 C610,410 370,410 325,400 Z" fill="url(#hairBr)" stroke="#3a2410" stroke-width="5"/><ellipse cx="490" cy="325" rx="138" ry="98" fill="url(#skin)"/><path d="M350,320 C340,240 400,192 490,192 C560,192 610,215 615,250 C550,245 500,262 450,300 C410,325 370,325 350,320 Z" fill="url(#hairBr)"/></g>
<g transform="translate(733.0692426584235,611.8347758887171) scale(0.13335)" stroke-linejoin="round"><path d="M148,470 C150,415 205,385 285,355 L500,355 C585,385 640,415 642,470 Z" fill="url(#suitB)" stroke="#000" stroke-width="9"/><path d="M300,358 L365,420 L392,392 L420,420 L488,358 Z" fill="#fff"/><path d="M368,402 L392,386 L418,402 L408,420 L422,466 L364,466 L378,420 Z" fill="#0e4aa0"/><path d="M300,358 L365,420 L392,392 L420,420 L488,358" fill="none" stroke="#0a3170" stroke-width="3"/><ellipse cx="186" cy="268" rx="38" ry="38" fill="#f9a548" stroke="#000" stroke-width="9"/><ellipse cx="602" cy="268" rx="38" ry="38" fill="#f9a548" stroke="#000" stroke-width="9"/><ellipse cx="393" cy="262" rx="182" ry="118" fill="url(#skin)" stroke="#000" stroke-width="9"/><path d="M208,262 C180,150 300,102 395,102 C440,102 478,112 503,128 C515,115 545,110 568,118 C548,128 536,140 542,152 C585,185 592,235 580,268 C572,232 545,205 470,188 C420,215 300,245 222,232 C215,240 212,250 208,262 Z" fill="url(#hairK)" stroke="#000" stroke-width="5"/><path d="M250,170 C300,125 400,112 470,130" fill="none" stroke="#4a6572" stroke-width="10" opacity="0.5" stroke-linecap="round"/></g>
<g transform="translate(799.0692426584235,611.8347758887171) scale(0.13335)" stroke-linejoin="round"><path d="M148,470 C150,415 205,385 285,355 L500,355 C585,385 640,415 642,470 Z" fill="url(#suitB)" stroke="#000" stroke-width="9"/><path d="M300,358 L365,420 L392,392 L420,420 L488,358 Z" fill="#fff"/><path d="M368,402 L392,386 L418,402 L408,420 L422,466 L364,466 L378,420 Z" fill="#0e4aa0"/><path d="M300,358 L365,420 L392,392 L420,420 L488,358" fill="none" stroke="#0a3170" stroke-width="3"/><ellipse cx="186" cy="268" rx="38" ry="38" fill="#f9a548" stroke="#000" stroke-width="9"/><ellipse cx="602" cy="268" rx="38" ry="38" fill="#f9a548" stroke="#000" stroke-width="9"/><ellipse cx="393" cy="262" rx="182" ry="118" fill="url(#skin)" stroke="#000" stroke-width="9"/><path d="M208,262 C180,150 300,102 395,102 C440,102 478,112 503,128 C515,115 545,110 568,118 C548,128 536,140 542,152 C585,185 592,235 580,268 C572,232 545,205 470,188 C420,215 300,245 222,232 C215,240 212,250 208,262 Z" fill="url(#hairK)" stroke="#000" stroke-width="5"/><path d="M250,170 C300,125 400,112 470,130" fill="none" stroke="#4a6572" stroke-width="10" opacity="0.5" stroke-linecap="round"/></g>
<g><ellipse cx="936" cy="695.5" rx="36" ry="2.6" fill="#999" opacity="0.5"/><rect x="901.8" y="647.4" width="46" height="31" fill="#c99a62"/><path d="M909.5,647.4 V678.4" stroke="#a87c48" stroke-width="0.7"/><path d="M917.1,647.4 V678.4" stroke="#a87c48" stroke-width="0.7"/><path d="M924.8,647.4 V678.4" stroke="#a87c48" stroke-width="0.7"/><path d="M932.5,647.4 V678.4" stroke="#a87c48" stroke-width="0.7"/><path d="M940.1,647.4 V678.4" stroke="#a87c48" stroke-width="0.7"/><path d="M901.8,655.1 H947.8" stroke="#a87c48" stroke-width="0.7"/><path d="M901.8,662.9 H947.8" stroke="#a87c48" stroke-width="0.7"/><path d="M901.8,670.6 H947.8" stroke="#a87c48" stroke-width="0.7"/><rect x="901.8" y="647.4" width="46" height="3" fill="#dcb382" opacity="0.7"/><rect x="899.5" y="678.4" width="50" height="3.2" fill="#4a4a4a"/><rect x="903" y="681.6" width="66" height="4.2" fill="#3a3a3a"/><rect x="947.8" y="655" width="1.6" height="24" fill="#555"/><path d="M950,660.5 Q950,658.8 952,658.8 H964 Q966.5,658.8 967.3,661 L969.8,669 Q970.8,670 970.8,672 V683.5 H950 Z" fill="#1d86d6"/><path d="M957,661 H964 Q965.3,661 965.8,662.4 L967.6,668.6 H957 Z" fill="#bfe0f5"/><rect x="951.2" y="661" width="4.2" height="7.6" fill="#9fcdf0"/><rect x="950" y="676" width="20.8" height="1.4" fill="#0f5fa6"/><rect x="966" y="681.5" width="6" height="3.2" fill="#888"/><circle cx="911.8" cy="687.6" r="7.2" fill="#1e1e1e"/><circle cx="911.8" cy="687.6" r="3.6" fill="#bdbdbd"/><circle cx="911.8" cy="687.6" r="1.4" fill="#555"/><circle cx="954.4" cy="687.6" r="7.2" fill="#1e1e1e"/><circle cx="954.4" cy="687.6" r="3.6" fill="#bdbdbd"/><circle cx="954.4" cy="687.6" r="1.4" fill="#555"/></g>
<ellipse cx="1486" cy="391" rx="99" ry="161" fill="none" stroke="#7dc447" stroke-width="1.2"/>
<text x="148" y="137.6" font-size="26.5" fill="#fff" font-weight="normal" textLength="157.3" lengthAdjust="spacingAndGlyphs" filter="url(#tglow)">Android 4.0+</text>
<text x="410.7" y="218.7" font-size="23.5" fill="#2464ae" font-weight="normal" textLength="131.7" lengthAdjust="spacingAndGlyphs" filter="url(#tsh)">ERP  Server</text>
<text x="624.3" y="123.7" font-size="23.5" fill="#2464ae" font-weight="normal" textLength="131.7" lengthAdjust="spacingAndGlyphs" filter="url(#tsh)">MES Server</text>
<text x="619.6" y="233.4" font-size="23.5" fill="#2464ae" font-weight="normal" textLength="143.4" lengthAdjust="spacingAndGlyphs" filter="url(#tsh)">WMS Server</text>
<text x="938" y="156.6" font-size="18.5" fill="#f26a1b" font-weight="normal" textLength="75.9" lengthAdjust="spacing" >任务监控</text>
<text x="938" y="179.8" font-size="18.5" fill="#f26a1b" font-weight="normal" textLength="75.9" lengthAdjust="spacing" >报表分析</text>
<text x="1164" y="118.4" font-size="16.5" fill="#1a1a1a" font-weight="normal" textLength="169.5" lengthAdjust="spacing" >第三方数据服务接口</text>
<text x="469.6" y="301.6" font-size="17" fill="#000" font-weight="500" textLength="72.5" lengthAdjust="spacing" >采购中心</text>
<text x="567.4" y="375.8" font-size="17" fill="#000" font-weight="500" textLength="72.6" lengthAdjust="spacing" >物流中心</text>
<text x="1002.5" y="292.8" font-size="17" fill="#000" font-weight="500" textLength="72.3" lengthAdjust="spacing" >营销中心</text>
<text x="917.2" y="372" font-size="17" fill="#000" font-weight="500" textLength="86.5" lengthAdjust="spacing" >生产工厂<tspan font-weight="bold">A</tspan></text>
<text x="769.4" y="315" font-size="17" fill="#000" font-weight="500" textLength="72.3" lengthAdjust="spacing" >集团总部</text>
<text x="769.8" y="338.5" font-size="19" fill="#f26a1b" font-weight="normal" textLength="78.7" lengthAdjust="spacing" filter="url(#tsh)">业务协同</text>
<text x="733.8" y="361.5" font-size="20" fill="#f26a1b" font-weight="bold" textLength="151.4" lengthAdjust="spacingAndGlyphs" filter="url(#tsh)">ERP-WMS-MES</text>
<text x="678.3" y="463.3" font-size="17" fill="#000" font-weight="500" textLength="49.9" lengthAdjust="spacing" >仓库<tspan font-weight="bold">A</tspan></text>
<text x="882.4" y="467" font-size="17" fill="#000" font-weight="500" textLength="48.1" lengthAdjust="spacing" >仓库<tspan font-weight="bold">B</tspan></text>
<text x="296.5" y="366.8" font-size="24.4" fill="#f26a1b" font-weight="normal" textLength="123.4" lengthAdjust="spacing" filter="url(#tsh)">供应商门户</text>
<text x="290" y="397.5" font-size="24.4" fill="#f26a1b" font-weight="normal" textLength="138.4" lengthAdjust="spacing" filter="url(#tsh)"><tspan font-weight="bold">ASN</tspan> 打条码</text>
<text x="1190" y="347.3" font-size="25" fill="#f26a1b" font-weight="normal" textLength="150.5" lengthAdjust="spacing" filter="url(#tsh)">上传发货数据</text>
<text x="1125.3" y="377.2" font-size="25" fill="#f26a1b" font-weight="normal" textLength="276.9" lengthAdjust="spacing" filter="url(#tsh)">按客户要求条码标签送货</text>
<text x="77.6" y="384" font-size="17" fill="#000" font-weight="500" textLength="70.5" lengthAdjust="spacing" >供应商<tspan font-weight="bold">A</tspan></text>
<text x="77.6" y="467.5" font-size="17" fill="#000" font-weight="500" textLength="68.9" lengthAdjust="spacing" >供应商<tspan font-weight="bold">B</tspan></text>
<text x="1429.4" y="374.4" font-size="17" fill="#111" font-weight="500" textLength="89.9" lengthAdjust="spacing" >客户工厂<tspan font-weight="bold">A</tspan></text>
<text x="1436.5" y="494.4" font-size="17" fill="#111" font-weight="500" textLength="87.8" lengthAdjust="spacing" >客户工厂<tspan font-weight="bold">B</tspan></text>
<text x="751.4" y="565.1" font-size="19.5" fill="#f26a1b" font-weight="normal" textLength="139.8" lengthAdjust="spacing" filter="url(#tsh)">物流跟踪与服务</text>
<text x="751" y="703.7" font-size="17" fill="#1a1a1a" font-weight="normal" textLength="94.8" lengthAdjust="spacing" >第三方物流</text>
<text x="1408.2" y="649.9" font-size="17.5" fill="#2a2a2a" font-weight="normal" textLength="133.1" lengthAdjust="spacing" >驻整车厂寄售仓</text>
<g transform="translate(768,475.4)"><path d="M3,0.5 H35 Q38,0.5 38,4 V36 Q38,41 35.5,44 Q33.5,47 33.5,52 V74 Q33.5,78 29.5,78 H8.5 Q4.5,78 4.5,74 V52 Q4.5,47 2.5,44 Q0,41 0,36 V4 Q0,0.5 3,0.5 Z" fill="url(#scanBody)"/><path d="M3,2 H35 Q36.5,2 36.5,4 V10 H1.5 V4 Q1.5,2 3,2 Z" fill="#343c4e"/><rect x="13" y="3" width="10" height="2.6" rx="1" fill="#3d7be0"/><rect x="5.5" y="7" width="25" height="27.5" fill="#0e1420"/><rect x="6.5" y="8" width="23" height="25.5" fill="url(#scanScr)"/><rect x="6.5" y="30.6" width="23" height="2.9" fill="#16357a"/><rect x="7" y="31.2" width="10" height="1.6" fill="#8fb4ea"/><rect x="19.5" y="31.2" width="9" height="1.6" fill="#6f97d8"/><rect x="11" y="18.5" width="15.5" height="3.6" fill="#e9eef6"/><rect x="11.6" y="19.2" width="2.6" height="2.2" fill="#e3c12a"/><rect x="15" y="20.2" width="10.5" height="1" fill="#4a9a3a"/><rect x="8.5" y="10" width="2.6" height="2.4" fill="#cfe0f8"/><rect x="8.5" y="15" width="2.6" height="2.4" fill="#cfe0f8"/><rect x="8.5" y="24.5" width="2.6" height="2.4" fill="#cfe0f8"/><rect x="15.5" y="10.8" width="6" height="1.2" fill="#9fc0f0"/><ellipse cx="18.5" cy="40.5" rx="4.6" ry="2.4" fill="#2f5fb8"/><rect x="14.6" y="43.6" width="8" height="2.7" rx="1.3" fill="#e7d21c"/><rect x="14.6" y="47.6" width="8" height="2.7" rx="1.3" fill="#e7d21c"/><rect x="8.3" y="40" width="4.4" height="1.9" rx="0.9" fill="#56698f"/><rect x="24.4" y="40" width="4.4" height="1.9" rx="0.9" fill="#56698f"/><rect x="8.3" y="43.2" width="4.4" height="1.9" rx="0.9" fill="#56698f"/><rect x="24.4" y="43.2" width="4.4" height="1.9" rx="0.9" fill="#56698f"/><rect x="8.3" y="46.4" width="4.4" height="1.9" rx="0.9" fill="#56698f"/><rect x="24.4" y="46.4" width="4.4" height="1.9" rx="0.9" fill="#56698f"/><rect x="8.3" y="49.6" width="4.4" height="1.9" rx="0.9" fill="#56698f"/><rect x="24.4" y="49.6" width="4.4" height="1.9" rx="0.9" fill="#56698f"/><rect x="8.6" y="53.6" width="5.6" height="2.1" rx="1" fill="#8fb4e8"/><rect x="16.0" y="53.6" width="5.6" height="2.1" rx="1" fill="#8fb4e8"/><rect x="23.4" y="53.6" width="5.6" height="2.1" rx="1" fill="#8fb4e8"/><rect x="8.6" y="57.0" width="5.6" height="2.1" rx="1" fill="#8fb4e8"/><rect x="16.0" y="57.0" width="5.6" height="2.1" rx="1" fill="#8fb4e8"/><rect x="23.4" y="57.0" width="5.6" height="2.1" rx="1" fill="#8fb4e8"/><rect x="8.6" y="60.4" width="5.6" height="2.1" rx="1" fill="#8fb4e8"/><rect x="16.0" y="60.4" width="5.6" height="2.1" rx="1" fill="#8fb4e8"/><rect x="23.4" y="60.4" width="5.6" height="2.1" rx="1" fill="#8fb4e8"/><rect x="8.6" y="63.8" width="5.6" height="2.1" rx="1" fill="#8fb4e8"/><rect x="16.0" y="63.8" width="5.6" height="2.1" rx="1" fill="#8fb4e8"/><rect x="23.4" y="63.8" width="5.6" height="2.1" rx="1" fill="#8fb4e8"/><rect x="8.6" y="67.2" width="5.6" height="2.1" rx="1" fill="#5d7198"/><rect x="16.0" y="67.2" width="5.6" height="2.1" rx="1" fill="#5d7198"/><rect x="23.4" y="67.2" width="5.6" height="2.1" rx="1" fill="#5d7198"/><circle cx="13.5" cy="71.5" r="1.1" fill="#e08a3a"/><circle cx="18.8" cy="71.5" r="1.1" fill="#3d7be0"/><circle cx="24" cy="71.5" r="1.1" fill="#e08a3a"/><circle cx="9" cy="71" r="1" fill="#b9c6dd"/><circle cx="28.5" cy="71" r="1" fill="#b9c6dd"/></g>
<g transform="translate(654,664)"><path d="M3,0.5 H35 Q38,0.5 38,4 V36 Q38,41 35.5,44 Q33.5,47 33.5,52 V74 Q33.5,78 29.5,78 H8.5 Q4.5,78 4.5,74 V52 Q4.5,47 2.5,44 Q0,41 0,36 V4 Q0,0.5 3,0.5 Z" fill="url(#scanBody)"/><path d="M3,2 H35 Q36.5,2 36.5,4 V10 H1.5 V4 Q1.5,2 3,2 Z" fill="#343c4e"/><rect x="13" y="3" width="10" height="2.6" rx="1" fill="#3d7be0"/><rect x="5.5" y="7" width="25" height="27.5" fill="#0e1420"/><rect x="6.5" y="8" width="23" height="25.5" fill="url(#scanScr)"/><rect x="6.5" y="30.6" width="23" height="2.9" fill="#16357a"/><rect x="7" y="31.2" width="10" height="1.6" fill="#8fb4ea"/><rect x="19.5" y="31.2" width="9" height="1.6" fill="#6f97d8"/><rect x="11" y="18.5" width="15.5" height="3.6" fill="#e9eef6"/><rect x="11.6" y="19.2" width="2.6" height="2.2" fill="#e3c12a"/><rect x="15" y="20.2" width="10.5" height="1" fill="#4a9a3a"/><rect x="8.5" y="10" width="2.6" height="2.4" fill="#cfe0f8"/><rect x="8.5" y="15" width="2.6" height="2.4" fill="#cfe0f8"/><rect x="8.5" y="24.5" width="2.6" height="2.4" fill="#cfe0f8"/><rect x="15.5" y="10.8" width="6" height="1.2" fill="#9fc0f0"/><ellipse cx="18.5" cy="40.5" rx="4.6" ry="2.4" fill="#2f5fb8"/><rect x="14.6" y="43.6" width="8" height="2.7" rx="1.3" fill="#e7d21c"/><rect x="14.6" y="47.6" width="8" height="2.7" rx="1.3" fill="#e7d21c"/><rect x="8.3" y="40" width="4.4" height="1.9" rx="0.9" fill="#56698f"/><rect x="24.4" y="40" width="4.4" height="1.9" rx="0.9" fill="#56698f"/><rect x="8.3" y="43.2" width="4.4" height="1.9" rx="0.9" fill="#56698f"/><rect x="24.4" y="43.2" width="4.4" height="1.9" rx="0.9" fill="#56698f"/><rect x="8.3" y="46.4" width="4.4" height="1.9" rx="0.9" fill="#56698f"/><rect x="24.4" y="46.4" width="4.4" height="1.9" rx="0.9" fill="#56698f"/><rect x="8.3" y="49.6" width="4.4" height="1.9" rx="0.9" fill="#56698f"/><rect x="24.4" y="49.6" width="4.4" height="1.9" rx="0.9" fill="#56698f"/><rect x="8.6" y="53.6" width="5.6" height="2.1" rx="1" fill="#8fb4e8"/><rect x="16.0" y="53.6" width="5.6" height="2.1" rx="1" fill="#8fb4e8"/><rect x="23.4" y="53.6" width="5.6" height="2.1" rx="1" fill="#8fb4e8"/><rect x="8.6" y="57.0" width="5.6" height="2.1" rx="1" fill="#8fb4e8"/><rect x="16.0" y="57.0" width="5.6" height="2.1" rx="1" fill="#8fb4e8"/><rect x="23.4" y="57.0" width="5.6" height="2.1" rx="1" fill="#8fb4e8"/><rect x="8.6" y="60.4" width="5.6" height="2.1" rx="1" fill="#8fb4e8"/><rect x="16.0" y="60.4" width="5.6" height="2.1" rx="1" fill="#8fb4e8"/><rect x="23.4" y="60.4" width="5.6" height="2.1" rx="1" fill="#8fb4e8"/><rect x="8.6" y="63.8" width="5.6" height="2.1" rx="1" fill="#8fb4e8"/><rect x="16.0" y="63.8" width="5.6" height="2.1" rx="1" fill="#8fb4e8"/><rect x="23.4" y="63.8" width="5.6" height="2.1" rx="1" fill="#8fb4e8"/><rect x="8.6" y="67.2" width="5.6" height="2.1" rx="1" fill="#5d7198"/><rect x="16.0" y="67.2" width="5.6" height="2.1" rx="1" fill="#5d7198"/><rect x="23.4" y="67.2" width="5.6" height="2.1" rx="1" fill="#5d7198"/><circle cx="13.5" cy="71.5" r="1.1" fill="#e08a3a"/><circle cx="18.8" cy="71.5" r="1.1" fill="#3d7be0"/><circle cx="24" cy="71.5" r="1.1" fill="#e08a3a"/><circle cx="9" cy="71" r="1" fill="#b9c6dd"/><circle cx="28.5" cy="71" r="1" fill="#b9c6dd"/></g>
<g transform="translate(1359.6,630.4)"><path d="M3,0.5 H35 Q38,0.5 38,4 V36 Q38,41 35.5,44 Q33.5,47 33.5,52 V74 Q33.5,78 29.5,78 H8.5 Q4.5,78 4.5,74 V52 Q4.5,47 2.5,44 Q0,41 0,36 V4 Q0,0.5 3,0.5 Z" fill="url(#scanBody)"/><path d="M3,2 H35 Q36.5,2 36.5,4 V10 H1.5 V4 Q1.5,2 3,2 Z" fill="#343c4e"/><rect x="13" y="3" width="10" height="2.6" rx="1" fill="#3d7be0"/><rect x="5.5" y="7" width="25" height="27.5" fill="#0e1420"/><rect x="6.5" y="8" width="23" height="25.5" fill="url(#scanScr)"/><rect x="6.5" y="30.6" width="23" height="2.9" fill="#16357a"/><rect x="7" y="31.2" width="10" height="1.6" fill="#8fb4ea"/><rect x="19.5" y="31.2" width="9" height="1.6" fill="#6f97d8"/><rect x="11" y="18.5" width="15.5" height="3.6" fill="#e9eef6"/><rect x="11.6" y="19.2" width="2.6" height="2.2" fill="#e3c12a"/><rect x="15" y="20.2" width="10.5" height="1" fill="#4a9a3a"/><rect x="8.5" y="10" width="2.6" height="2.4" fill="#cfe0f8"/><rect x="8.5" y="15" width="2.6" height="2.4" fill="#cfe0f8"/><rect x="8.5" y="24.5" width="2.6" height="2.4" fill="#cfe0f8"/><rect x="15.5" y="10.8" width="6" height="1.2" fill="#9fc0f0"/><ellipse cx="18.5" cy="40.5" rx="4.6" ry="2.4" fill="#2f5fb8"/><rect x="14.6" y="43.6" width="8" height="2.7" rx="1.3" fill="#e7d21c"/><rect x="14.6" y="47.6" width="8" height="2.7" rx="1.3" fill="#e7d21c"/><rect x="8.3" y="40" width="4.4" height="1.9" rx="0.9" fill="#56698f"/><rect x="24.4" y="40" width="4.4" height="1.9" rx="0.9" fill="#56698f"/><rect x="8.3" y="43.2" width="4.4" height="1.9" rx="0.9" fill="#56698f"/><rect x="24.4" y="43.2" width="4.4" height="1.9" rx="0.9" fill="#56698f"/><rect x="8.3" y="46.4" width="4.4" height="1.9" rx="0.9" fill="#56698f"/><rect x="24.4" y="46.4" width="4.4" height="1.9" rx="0.9" fill="#56698f"/><rect x="8.3" y="49.6" width="4.4" height="1.9" rx="0.9" fill="#56698f"/><rect x="24.4" y="49.6" width="4.4" height="1.9" rx="0.9" fill="#56698f"/><rect x="8.6" y="53.6" width="5.6" height="2.1" rx="1" fill="#8fb4e8"/><rect x="16.0" y="53.6" width="5.6" height="2.1" rx="1" fill="#8fb4e8"/><rect x="23.4" y="53.6" width="5.6" height="2.1" rx="1" fill="#8fb4e8"/><rect x="8.6" y="57.0" width="5.6" height="2.1" rx="1" fill="#8fb4e8"/><rect x="16.0" y="57.0" width="5.6" height="2.1" rx="1" fill="#8fb4e8"/><rect x="23.4" y="57.0" width="5.6" height="2.1" rx="1" fill="#8fb4e8"/><rect x="8.6" y="60.4" width="5.6" height="2.1" rx="1" fill="#8fb4e8"/><rect x="16.0" y="60.4" width="5.6" height="2.1" rx="1" fill="#8fb4e8"/><rect x="23.4" y="60.4" width="5.6" height="2.1" rx="1" fill="#8fb4e8"/><rect x="8.6" y="63.8" width="5.6" height="2.1" rx="1" fill="#8fb4e8"/><rect x="16.0" y="63.8" width="5.6" height="2.1" rx="1" fill="#8fb4e8"/><rect x="23.4" y="63.8" width="5.6" height="2.1" rx="1" fill="#8fb4e8"/><rect x="8.6" y="67.2" width="5.6" height="2.1" rx="1" fill="#5d7198"/><rect x="16.0" y="67.2" width="5.6" height="2.1" rx="1" fill="#5d7198"/><rect x="23.4" y="67.2" width="5.6" height="2.1" rx="1" fill="#5d7198"/><circle cx="13.5" cy="71.5" r="1.1" fill="#e08a3a"/><circle cx="18.8" cy="71.5" r="1.1" fill="#3d7be0"/><circle cx="24" cy="71.5" r="1.1" fill="#e08a3a"/><circle cx="9" cy="71" r="1" fill="#b9c6dd"/><circle cx="28.5" cy="71" r="1" fill="#b9c6dd"/></g>
</svg>
</body></html>
